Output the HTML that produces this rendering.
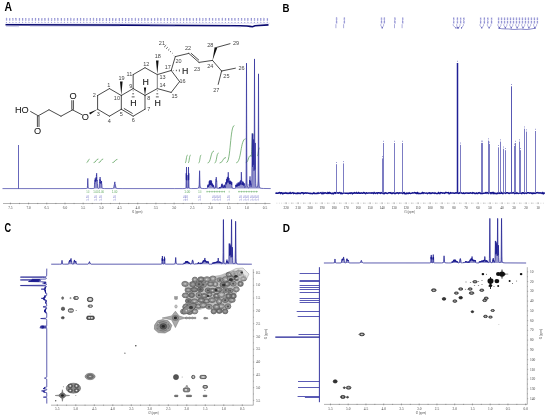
<!DOCTYPE html>
<html><head><meta charset="utf-8"><title>NMR figure</title>
<style>html,body{margin:0;padding:0;background:#fff;width:550px;height:419px;overflow:hidden}svg{display:block}</style>
</head><body>
<svg width="550" height="419" viewBox="0 0 550 419">
<rect width="550" height="419" fill="#fff"/>
<text transform="translate(4.5,10.6) scale(0.88,1)" font-size="11.9" font-weight="bold" fill="#000" font-family="Liberation Sans, Arial, sans-serif">A</text>
<text transform="translate(282.6,11.7) scale(0.84,1)" font-size="11.5" font-weight="bold" fill="#000" font-family="Liberation Sans, Arial, sans-serif">B</text>
<text transform="translate(4.5,231.8) scale(0.74,1)" font-size="12.4" font-weight="bold" fill="#000" font-family="Liberation Sans, Arial, sans-serif">C</text>
<text transform="translate(282.7,231.7) scale(0.85,1)" font-size="11.8" font-weight="bold" fill="#000" font-family="Liberation Sans, Arial, sans-serif">D</text>
<rect x="5.85" y="18.0" width="1.4" height="2.8" fill="#bcbce6"/>
<text transform="translate(6.8,21.2) rotate(-90)" font-size="2.1" textLength="3.3" lengthAdjust="spacingAndGlyphs" fill="#5454b4" font-family="Liberation Sans, Arial, sans-serif">7.30</text>
<rect x="5.9" y="22.0" width="1.1" height="0.7" fill="#8080cc"/>
<rect x="9.07" y="18.0" width="1.4" height="2.8" fill="#bcbce6"/>
<text transform="translate(10.02,21.2) rotate(-90)" font-size="2.1" textLength="3.3" lengthAdjust="spacingAndGlyphs" fill="#5454b4" font-family="Liberation Sans, Arial, sans-serif">7.21</text>
<rect x="9.12" y="22.0" width="1.1" height="0.7" fill="#8080cc"/>
<rect x="12.29" y="18.0" width="1.4" height="2.8" fill="#bcbce6"/>
<text transform="translate(13.24,21.2) rotate(-90)" font-size="2.1" textLength="3.3" lengthAdjust="spacingAndGlyphs" fill="#5454b4" font-family="Liberation Sans, Arial, sans-serif">7.13</text>
<rect x="12.34" y="22.0" width="1.1" height="0.7" fill="#8080cc"/>
<rect x="15.51" y="18.0" width="1.4" height="2.8" fill="#bcbce6"/>
<text transform="translate(16.46,21.2) rotate(-90)" font-size="2.1" textLength="3.3" lengthAdjust="spacingAndGlyphs" fill="#5454b4" font-family="Liberation Sans, Arial, sans-serif">7.04</text>
<rect x="15.56" y="22.0" width="1.1" height="0.7" fill="#8080cc"/>
<rect x="18.73" y="18.0" width="1.4" height="2.8" fill="#bcbce6"/>
<text transform="translate(19.68,21.2) rotate(-90)" font-size="2.1" textLength="3.3" lengthAdjust="spacingAndGlyphs" fill="#5454b4" font-family="Liberation Sans, Arial, sans-serif">6.96</text>
<rect x="18.78" y="22.0" width="1.1" height="0.7" fill="#8080cc"/>
<rect x="21.95" y="18.0" width="1.4" height="2.8" fill="#bcbce6"/>
<text transform="translate(22.9,21.2) rotate(-90)" font-size="2.1" textLength="3.3" lengthAdjust="spacingAndGlyphs" fill="#5454b4" font-family="Liberation Sans, Arial, sans-serif">6.88</text>
<rect x="22" y="22.0" width="1.1" height="0.7" fill="#8080cc"/>
<rect x="25.17" y="18.0" width="1.4" height="2.8" fill="#bcbce6"/>
<text transform="translate(26.12,21.2) rotate(-90)" font-size="2.1" textLength="3.3" lengthAdjust="spacingAndGlyphs" fill="#5454b4" font-family="Liberation Sans, Arial, sans-serif">6.79</text>
<rect x="25.22" y="22.0" width="1.1" height="0.7" fill="#8080cc"/>
<rect x="28.39" y="18.0" width="1.4" height="2.8" fill="#bcbce6"/>
<text transform="translate(29.34,21.2) rotate(-90)" font-size="2.1" textLength="3.3" lengthAdjust="spacingAndGlyphs" fill="#5454b4" font-family="Liberation Sans, Arial, sans-serif">6.71</text>
<rect x="28.44" y="22.0" width="1.1" height="0.7" fill="#8080cc"/>
<rect x="31.61" y="18.0" width="1.4" height="2.8" fill="#bcbce6"/>
<text transform="translate(32.56,21.2) rotate(-90)" font-size="2.1" textLength="3.3" lengthAdjust="spacingAndGlyphs" fill="#5454b4" font-family="Liberation Sans, Arial, sans-serif">6.62</text>
<rect x="31.66" y="22.0" width="1.1" height="0.7" fill="#8080cc"/>
<rect x="34.83" y="18.0" width="1.4" height="2.8" fill="#bcbce6"/>
<text transform="translate(35.78,21.2) rotate(-90)" font-size="2.1" textLength="3.3" lengthAdjust="spacingAndGlyphs" fill="#5454b4" font-family="Liberation Sans, Arial, sans-serif">6.54</text>
<rect x="34.88" y="22.0" width="1.1" height="0.7" fill="#8080cc"/>
<rect x="38.05" y="18.0" width="1.4" height="2.8" fill="#bcbce6"/>
<text transform="translate(39,21.2) rotate(-90)" font-size="2.1" textLength="3.3" lengthAdjust="spacingAndGlyphs" fill="#5454b4" font-family="Liberation Sans, Arial, sans-serif">6.45</text>
<rect x="38.1" y="22.0" width="1.1" height="0.7" fill="#8080cc"/>
<rect x="41.27" y="18.0" width="1.4" height="2.8" fill="#bcbce6"/>
<text transform="translate(42.22,21.2) rotate(-90)" font-size="2.1" textLength="3.3" lengthAdjust="spacingAndGlyphs" fill="#5454b4" font-family="Liberation Sans, Arial, sans-serif">6.37</text>
<rect x="41.32" y="22.0" width="1.1" height="0.7" fill="#8080cc"/>
<rect x="44.49" y="18.0" width="1.4" height="2.8" fill="#bcbce6"/>
<text transform="translate(45.44,21.2) rotate(-90)" font-size="2.1" textLength="3.3" lengthAdjust="spacingAndGlyphs" fill="#5454b4" font-family="Liberation Sans, Arial, sans-serif">6.28</text>
<rect x="44.54" y="22.0" width="1.1" height="0.7" fill="#8080cc"/>
<rect x="47.71" y="18.0" width="1.4" height="2.8" fill="#bcbce6"/>
<text transform="translate(48.66,21.2) rotate(-90)" font-size="2.1" textLength="3.3" lengthAdjust="spacingAndGlyphs" fill="#5454b4" font-family="Liberation Sans, Arial, sans-serif">6.20</text>
<rect x="47.76" y="22.0" width="1.1" height="0.7" fill="#8080cc"/>
<rect x="50.93" y="18.0" width="1.4" height="2.8" fill="#bcbce6"/>
<text transform="translate(51.88,21.2) rotate(-90)" font-size="2.1" textLength="3.3" lengthAdjust="spacingAndGlyphs" fill="#5454b4" font-family="Liberation Sans, Arial, sans-serif">6.11</text>
<rect x="50.98" y="22.0" width="1.1" height="0.7" fill="#8080cc"/>
<rect x="54.15" y="18.0" width="1.4" height="2.8" fill="#bcbce6"/>
<text transform="translate(55.1,21.2) rotate(-90)" font-size="2.1" textLength="3.3" lengthAdjust="spacingAndGlyphs" fill="#5454b4" font-family="Liberation Sans, Arial, sans-serif">6.02</text>
<rect x="54.2" y="22.0" width="1.1" height="0.7" fill="#8080cc"/>
<rect x="57.37" y="18.0" width="1.4" height="2.8" fill="#bcbce6"/>
<text transform="translate(58.32,21.2) rotate(-90)" font-size="2.1" textLength="3.3" lengthAdjust="spacingAndGlyphs" fill="#5454b4" font-family="Liberation Sans, Arial, sans-serif">5.94</text>
<rect x="57.42" y="22.0" width="1.1" height="0.7" fill="#8080cc"/>
<rect x="60.59" y="18.0" width="1.4" height="2.8" fill="#bcbce6"/>
<text transform="translate(61.54,21.2) rotate(-90)" font-size="2.1" textLength="3.3" lengthAdjust="spacingAndGlyphs" fill="#5454b4" font-family="Liberation Sans, Arial, sans-serif">5.85</text>
<rect x="60.64" y="22.0" width="1.1" height="0.7" fill="#8080cc"/>
<rect x="63.81" y="18.0" width="1.4" height="2.8" fill="#bcbce6"/>
<text transform="translate(64.76,21.2) rotate(-90)" font-size="2.1" textLength="3.3" lengthAdjust="spacingAndGlyphs" fill="#5454b4" font-family="Liberation Sans, Arial, sans-serif">5.77</text>
<rect x="63.86" y="22.0" width="1.1" height="0.7" fill="#8080cc"/>
<rect x="67.03" y="18.0" width="1.4" height="2.8" fill="#bcbce6"/>
<text transform="translate(67.98,21.2) rotate(-90)" font-size="2.1" textLength="3.3" lengthAdjust="spacingAndGlyphs" fill="#5454b4" font-family="Liberation Sans, Arial, sans-serif">5.68</text>
<rect x="67.08" y="22.0" width="1.1" height="0.7" fill="#8080cc"/>
<rect x="70.25" y="18.0" width="1.4" height="2.8" fill="#bcbce6"/>
<text transform="translate(71.2,21.2) rotate(-90)" font-size="2.1" textLength="3.3" lengthAdjust="spacingAndGlyphs" fill="#5454b4" font-family="Liberation Sans, Arial, sans-serif">5.60</text>
<rect x="70.3" y="22.0" width="1.1" height="0.7" fill="#8080cc"/>
<rect x="73.47" y="18.0" width="1.4" height="2.8" fill="#bcbce6"/>
<text transform="translate(74.42,21.2) rotate(-90)" font-size="2.1" textLength="3.3" lengthAdjust="spacingAndGlyphs" fill="#5454b4" font-family="Liberation Sans, Arial, sans-serif">5.51</text>
<rect x="73.52" y="22.0" width="1.1" height="0.7" fill="#8080cc"/>
<rect x="76.69" y="18.0" width="1.4" height="2.8" fill="#bcbce6"/>
<text transform="translate(77.64,21.2) rotate(-90)" font-size="2.1" textLength="3.3" lengthAdjust="spacingAndGlyphs" fill="#5454b4" font-family="Liberation Sans, Arial, sans-serif">5.43</text>
<rect x="76.74" y="22.0" width="1.1" height="0.7" fill="#8080cc"/>
<rect x="79.91" y="18.0" width="1.4" height="2.8" fill="#bcbce6"/>
<text transform="translate(80.86,21.2) rotate(-90)" font-size="2.1" textLength="3.3" lengthAdjust="spacingAndGlyphs" fill="#5454b4" font-family="Liberation Sans, Arial, sans-serif">5.34</text>
<rect x="79.96" y="22.0" width="1.1" height="0.7" fill="#8080cc"/>
<rect x="83.13" y="18.0" width="1.4" height="2.8" fill="#bcbce6"/>
<text transform="translate(84.08,21.2) rotate(-90)" font-size="2.1" textLength="3.3" lengthAdjust="spacingAndGlyphs" fill="#5454b4" font-family="Liberation Sans, Arial, sans-serif">5.26</text>
<rect x="83.18" y="22.0" width="1.1" height="0.7" fill="#8080cc"/>
<rect x="86.35" y="18.0" width="1.4" height="2.8" fill="#bcbce6"/>
<text transform="translate(87.3,21.2) rotate(-90)" font-size="2.1" textLength="3.3" lengthAdjust="spacingAndGlyphs" fill="#5454b4" font-family="Liberation Sans, Arial, sans-serif">5.17</text>
<rect x="86.4" y="22.0" width="1.1" height="0.7" fill="#8080cc"/>
<rect x="89.57" y="18.0" width="1.4" height="2.8" fill="#bcbce6"/>
<text transform="translate(90.52,21.2) rotate(-90)" font-size="2.1" textLength="3.3" lengthAdjust="spacingAndGlyphs" fill="#5454b4" font-family="Liberation Sans, Arial, sans-serif">5.09</text>
<rect x="89.62" y="22.0" width="1.1" height="0.7" fill="#8080cc"/>
<rect x="92.79" y="18.0" width="1.4" height="2.8" fill="#bcbce6"/>
<text transform="translate(93.74,21.2) rotate(-90)" font-size="2.1" textLength="3.3" lengthAdjust="spacingAndGlyphs" fill="#5454b4" font-family="Liberation Sans, Arial, sans-serif">5.00</text>
<rect x="92.84" y="22.0" width="1.1" height="0.7" fill="#8080cc"/>
<rect x="96.01" y="18.0" width="1.4" height="2.8" fill="#bcbce6"/>
<text transform="translate(96.96,21.2) rotate(-90)" font-size="2.1" textLength="3.3" lengthAdjust="spacingAndGlyphs" fill="#5454b4" font-family="Liberation Sans, Arial, sans-serif">4.92</text>
<rect x="96.06" y="22.0" width="1.1" height="0.7" fill="#8080cc"/>
<rect x="99.23" y="18.0" width="1.4" height="2.8" fill="#bcbce6"/>
<text transform="translate(100.18,21.2) rotate(-90)" font-size="2.1" textLength="3.3" lengthAdjust="spacingAndGlyphs" fill="#5454b4" font-family="Liberation Sans, Arial, sans-serif">4.83</text>
<rect x="99.28" y="22.0" width="1.1" height="0.7" fill="#8080cc"/>
<rect x="102.45" y="18.0" width="1.4" height="2.8" fill="#bcbce6"/>
<text transform="translate(103.4,21.2) rotate(-90)" font-size="2.1" textLength="3.3" lengthAdjust="spacingAndGlyphs" fill="#5454b4" font-family="Liberation Sans, Arial, sans-serif">4.75</text>
<rect x="102.5" y="22.0" width="1.1" height="0.7" fill="#8080cc"/>
<rect x="105.67" y="18.0" width="1.4" height="2.8" fill="#bcbce6"/>
<text transform="translate(106.62,21.2) rotate(-90)" font-size="2.1" textLength="3.3" lengthAdjust="spacingAndGlyphs" fill="#5454b4" font-family="Liberation Sans, Arial, sans-serif">4.66</text>
<rect x="105.72" y="22.0" width="1.1" height="0.7" fill="#8080cc"/>
<rect x="108.89" y="18.0" width="1.4" height="2.8" fill="#bcbce6"/>
<text transform="translate(109.84,21.2) rotate(-90)" font-size="2.1" textLength="3.3" lengthAdjust="spacingAndGlyphs" fill="#5454b4" font-family="Liberation Sans, Arial, sans-serif">4.58</text>
<rect x="108.94" y="22.0" width="1.1" height="0.7" fill="#8080cc"/>
<rect x="112.11" y="18.0" width="1.4" height="2.8" fill="#bcbce6"/>
<text transform="translate(113.06,21.2) rotate(-90)" font-size="2.1" textLength="3.3" lengthAdjust="spacingAndGlyphs" fill="#5454b4" font-family="Liberation Sans, Arial, sans-serif">4.49</text>
<rect x="112.16" y="22.0" width="1.1" height="0.7" fill="#8080cc"/>
<rect x="115.33" y="18.0" width="1.4" height="2.8" fill="#bcbce6"/>
<text transform="translate(116.28,21.2) rotate(-90)" font-size="2.1" textLength="3.3" lengthAdjust="spacingAndGlyphs" fill="#5454b4" font-family="Liberation Sans, Arial, sans-serif">4.41</text>
<rect x="115.38" y="22.0" width="1.1" height="0.7" fill="#8080cc"/>
<rect x="118.55" y="18.0" width="1.4" height="2.8" fill="#bcbce6"/>
<text transform="translate(119.5,21.2) rotate(-90)" font-size="2.1" textLength="3.3" lengthAdjust="spacingAndGlyphs" fill="#5454b4" font-family="Liberation Sans, Arial, sans-serif">4.32</text>
<rect x="118.6" y="22.0" width="1.1" height="0.7" fill="#8080cc"/>
<rect x="121.77" y="18.0" width="1.4" height="2.8" fill="#bcbce6"/>
<text transform="translate(122.72,21.2) rotate(-90)" font-size="2.1" textLength="3.3" lengthAdjust="spacingAndGlyphs" fill="#5454b4" font-family="Liberation Sans, Arial, sans-serif">4.24</text>
<rect x="121.82" y="22.0" width="1.1" height="0.7" fill="#8080cc"/>
<rect x="124.99" y="18.0" width="1.4" height="2.8" fill="#bcbce6"/>
<text transform="translate(125.94,21.2) rotate(-90)" font-size="2.1" textLength="3.3" lengthAdjust="spacingAndGlyphs" fill="#5454b4" font-family="Liberation Sans, Arial, sans-serif">4.15</text>
<rect x="125.04" y="22.0" width="1.1" height="0.7" fill="#8080cc"/>
<rect x="128.21" y="18.0" width="1.4" height="2.8" fill="#bcbce6"/>
<text transform="translate(129.16,21.2) rotate(-90)" font-size="2.1" textLength="3.3" lengthAdjust="spacingAndGlyphs" fill="#5454b4" font-family="Liberation Sans, Arial, sans-serif">4.07</text>
<rect x="128.26" y="22.0" width="1.1" height="0.7" fill="#8080cc"/>
<rect x="131.43" y="18.0" width="1.4" height="2.8" fill="#bcbce6"/>
<text transform="translate(132.38,21.2) rotate(-90)" font-size="2.1" textLength="3.3" lengthAdjust="spacingAndGlyphs" fill="#5454b4" font-family="Liberation Sans, Arial, sans-serif">3.98</text>
<rect x="131.48" y="22.0" width="1.1" height="0.7" fill="#8080cc"/>
<rect x="134.65" y="18.0" width="1.4" height="2.8" fill="#bcbce6"/>
<text transform="translate(135.6,21.2) rotate(-90)" font-size="2.1" textLength="3.3" lengthAdjust="spacingAndGlyphs" fill="#5454b4" font-family="Liberation Sans, Arial, sans-serif">3.90</text>
<rect x="134.7" y="22.0" width="1.1" height="0.7" fill="#8080cc"/>
<rect x="137.87" y="18.0" width="1.4" height="2.8" fill="#bcbce6"/>
<text transform="translate(138.82,21.2) rotate(-90)" font-size="2.1" textLength="3.3" lengthAdjust="spacingAndGlyphs" fill="#5454b4" font-family="Liberation Sans, Arial, sans-serif">3.81</text>
<rect x="137.92" y="22.0" width="1.1" height="0.7" fill="#8080cc"/>
<rect x="141.09" y="18.0" width="1.4" height="2.8" fill="#bcbce6"/>
<text transform="translate(142.04,21.2) rotate(-90)" font-size="2.1" textLength="3.3" lengthAdjust="spacingAndGlyphs" fill="#5454b4" font-family="Liberation Sans, Arial, sans-serif">3.73</text>
<rect x="141.14" y="22.0" width="1.1" height="0.7" fill="#8080cc"/>
<rect x="144.31" y="18.0" width="1.4" height="2.8" fill="#bcbce6"/>
<text transform="translate(145.26,21.2) rotate(-90)" font-size="2.1" textLength="3.3" lengthAdjust="spacingAndGlyphs" fill="#5454b4" font-family="Liberation Sans, Arial, sans-serif">3.64</text>
<rect x="144.36" y="22.0" width="1.1" height="0.7" fill="#8080cc"/>
<rect x="147.53" y="18.0" width="1.4" height="2.8" fill="#bcbce6"/>
<text transform="translate(148.48,21.2) rotate(-90)" font-size="2.1" textLength="3.3" lengthAdjust="spacingAndGlyphs" fill="#5454b4" font-family="Liberation Sans, Arial, sans-serif">3.56</text>
<rect x="147.58" y="22.0" width="1.1" height="0.7" fill="#8080cc"/>
<rect x="150.75" y="18.0" width="1.4" height="2.8" fill="#bcbce6"/>
<text transform="translate(151.7,21.2) rotate(-90)" font-size="2.1" textLength="3.3" lengthAdjust="spacingAndGlyphs" fill="#5454b4" font-family="Liberation Sans, Arial, sans-serif">3.47</text>
<rect x="150.8" y="22.0" width="1.1" height="0.7" fill="#8080cc"/>
<rect x="153.97" y="18.0" width="1.4" height="2.8" fill="#bcbce6"/>
<text transform="translate(154.92,21.2) rotate(-90)" font-size="2.1" textLength="3.3" lengthAdjust="spacingAndGlyphs" fill="#5454b4" font-family="Liberation Sans, Arial, sans-serif">3.39</text>
<rect x="154.02" y="22.0" width="1.1" height="0.7" fill="#8080cc"/>
<rect x="157.19" y="18.0" width="1.4" height="2.8" fill="#bcbce6"/>
<text transform="translate(158.14,21.2) rotate(-90)" font-size="2.1" textLength="3.3" lengthAdjust="spacingAndGlyphs" fill="#5454b4" font-family="Liberation Sans, Arial, sans-serif">3.30</text>
<rect x="157.24" y="22.0" width="1.1" height="0.7" fill="#8080cc"/>
<rect x="160.41" y="18.0" width="1.4" height="2.8" fill="#bcbce6"/>
<text transform="translate(161.36,21.2) rotate(-90)" font-size="2.1" textLength="3.3" lengthAdjust="spacingAndGlyphs" fill="#5454b4" font-family="Liberation Sans, Arial, sans-serif">3.22</text>
<rect x="160.46" y="22.0" width="1.1" height="0.7" fill="#8080cc"/>
<rect x="163.63" y="18.0" width="1.4" height="2.8" fill="#bcbce6"/>
<text transform="translate(164.58,21.2) rotate(-90)" font-size="2.1" textLength="3.3" lengthAdjust="spacingAndGlyphs" fill="#5454b4" font-family="Liberation Sans, Arial, sans-serif">3.13</text>
<rect x="163.68" y="22.0" width="1.1" height="0.7" fill="#8080cc"/>
<rect x="166.85" y="18.0" width="1.4" height="2.8" fill="#bcbce6"/>
<text transform="translate(167.8,21.2) rotate(-90)" font-size="2.1" textLength="3.3" lengthAdjust="spacingAndGlyphs" fill="#5454b4" font-family="Liberation Sans, Arial, sans-serif">3.05</text>
<rect x="166.9" y="22.0" width="1.1" height="0.7" fill="#8080cc"/>
<rect x="170.07" y="18.0" width="1.4" height="2.8" fill="#bcbce6"/>
<text transform="translate(171.02,21.2) rotate(-90)" font-size="2.1" textLength="3.3" lengthAdjust="spacingAndGlyphs" fill="#5454b4" font-family="Liberation Sans, Arial, sans-serif">2.96</text>
<rect x="170.12" y="22.0" width="1.1" height="0.7" fill="#8080cc"/>
<rect x="173.29" y="18.0" width="1.4" height="2.8" fill="#bcbce6"/>
<text transform="translate(174.24,21.2) rotate(-90)" font-size="2.1" textLength="3.3" lengthAdjust="spacingAndGlyphs" fill="#5454b4" font-family="Liberation Sans, Arial, sans-serif">2.88</text>
<rect x="173.34" y="22.0" width="1.1" height="0.7" fill="#8080cc"/>
<rect x="176.51" y="18.0" width="1.4" height="2.8" fill="#bcbce6"/>
<text transform="translate(177.46,21.2) rotate(-90)" font-size="2.1" textLength="3.3" lengthAdjust="spacingAndGlyphs" fill="#5454b4" font-family="Liberation Sans, Arial, sans-serif">2.79</text>
<rect x="176.56" y="22.0" width="1.1" height="0.7" fill="#8080cc"/>
<rect x="179.73" y="18.0" width="1.4" height="2.8" fill="#bcbce6"/>
<text transform="translate(180.68,21.2) rotate(-90)" font-size="2.1" textLength="3.3" lengthAdjust="spacingAndGlyphs" fill="#5454b4" font-family="Liberation Sans, Arial, sans-serif">2.71</text>
<rect x="179.78" y="22.0" width="1.1" height="0.7" fill="#8080cc"/>
<rect x="182.95" y="18.0" width="1.4" height="2.8" fill="#bcbce6"/>
<text transform="translate(183.9,21.2) rotate(-90)" font-size="2.1" textLength="3.3" lengthAdjust="spacingAndGlyphs" fill="#5454b4" font-family="Liberation Sans, Arial, sans-serif">2.62</text>
<rect x="183" y="22.0" width="1.1" height="0.7" fill="#8080cc"/>
<rect x="186.17" y="18.0" width="1.4" height="2.8" fill="#bcbce6"/>
<text transform="translate(187.12,21.2) rotate(-90)" font-size="2.1" textLength="3.3" lengthAdjust="spacingAndGlyphs" fill="#5454b4" font-family="Liberation Sans, Arial, sans-serif">2.54</text>
<rect x="186.22" y="22.0" width="1.1" height="0.7" fill="#8080cc"/>
<rect x="189.39" y="18.0" width="1.4" height="2.8" fill="#bcbce6"/>
<text transform="translate(190.34,21.2) rotate(-90)" font-size="2.1" textLength="3.3" lengthAdjust="spacingAndGlyphs" fill="#5454b4" font-family="Liberation Sans, Arial, sans-serif">2.45</text>
<rect x="189.44" y="22.0" width="1.1" height="0.7" fill="#8080cc"/>
<rect x="192.61" y="18.0" width="1.4" height="2.8" fill="#bcbce6"/>
<text transform="translate(193.56,21.2) rotate(-90)" font-size="2.1" textLength="3.3" lengthAdjust="spacingAndGlyphs" fill="#5454b4" font-family="Liberation Sans, Arial, sans-serif">2.37</text>
<rect x="192.66" y="22.0" width="1.1" height="0.7" fill="#8080cc"/>
<rect x="195.83" y="18.0" width="1.4" height="2.8" fill="#bcbce6"/>
<text transform="translate(196.78,21.2) rotate(-90)" font-size="2.1" textLength="3.3" lengthAdjust="spacingAndGlyphs" fill="#5454b4" font-family="Liberation Sans, Arial, sans-serif">2.28</text>
<rect x="195.88" y="22.0" width="1.1" height="0.7" fill="#8080cc"/>
<rect x="199.05" y="18.0" width="1.4" height="2.8" fill="#bcbce6"/>
<text transform="translate(200,21.2) rotate(-90)" font-size="2.1" textLength="3.3" lengthAdjust="spacingAndGlyphs" fill="#5454b4" font-family="Liberation Sans, Arial, sans-serif">2.20</text>
<rect x="199.1" y="22.0" width="1.1" height="0.7" fill="#8080cc"/>
<rect x="202.27" y="18.0" width="1.4" height="2.8" fill="#bcbce6"/>
<text transform="translate(203.22,21.2) rotate(-90)" font-size="2.1" textLength="3.3" lengthAdjust="spacingAndGlyphs" fill="#5454b4" font-family="Liberation Sans, Arial, sans-serif">2.11</text>
<rect x="202.32" y="22.0" width="1.1" height="0.7" fill="#8080cc"/>
<rect x="205.49" y="18.0" width="1.4" height="2.8" fill="#bcbce6"/>
<text transform="translate(206.44,21.2) rotate(-90)" font-size="2.1" textLength="3.3" lengthAdjust="spacingAndGlyphs" fill="#5454b4" font-family="Liberation Sans, Arial, sans-serif">2.03</text>
<rect x="205.54" y="22.0" width="1.1" height="0.7" fill="#8080cc"/>
<rect x="208.71" y="18.0" width="1.4" height="2.8" fill="#bcbce6"/>
<text transform="translate(209.66,21.2) rotate(-90)" font-size="2.1" textLength="3.3" lengthAdjust="spacingAndGlyphs" fill="#5454b4" font-family="Liberation Sans, Arial, sans-serif">1.94</text>
<rect x="208.76" y="22.0" width="1.1" height="0.7" fill="#8080cc"/>
<rect x="211.93" y="18.0" width="1.4" height="2.8" fill="#bcbce6"/>
<text transform="translate(212.88,21.2) rotate(-90)" font-size="2.1" textLength="3.3" lengthAdjust="spacingAndGlyphs" fill="#5454b4" font-family="Liberation Sans, Arial, sans-serif">1.86</text>
<rect x="211.98" y="22.0" width="1.1" height="0.7" fill="#8080cc"/>
<rect x="215.15" y="18.0" width="1.4" height="2.8" fill="#bcbce6"/>
<text transform="translate(216.1,21.2) rotate(-90)" font-size="2.1" textLength="3.3" lengthAdjust="spacingAndGlyphs" fill="#5454b4" font-family="Liberation Sans, Arial, sans-serif">1.77</text>
<rect x="215.2" y="22.0" width="1.1" height="0.7" fill="#8080cc"/>
<rect x="218.37" y="18.0" width="1.4" height="2.8" fill="#bcbce6"/>
<text transform="translate(219.32,21.2) rotate(-90)" font-size="2.1" textLength="3.3" lengthAdjust="spacingAndGlyphs" fill="#5454b4" font-family="Liberation Sans, Arial, sans-serif">1.69</text>
<rect x="218.42" y="22.0" width="1.1" height="0.7" fill="#8080cc"/>
<rect x="221.59" y="18.0" width="1.4" height="2.8" fill="#bcbce6"/>
<text transform="translate(222.54,21.2) rotate(-90)" font-size="2.1" textLength="3.3" lengthAdjust="spacingAndGlyphs" fill="#5454b4" font-family="Liberation Sans, Arial, sans-serif">1.60</text>
<rect x="221.64" y="22.0" width="1.1" height="0.7" fill="#8080cc"/>
<rect x="224.81" y="18.0" width="1.4" height="2.8" fill="#bcbce6"/>
<text transform="translate(225.76,21.2) rotate(-90)" font-size="2.1" textLength="3.3" lengthAdjust="spacingAndGlyphs" fill="#5454b4" font-family="Liberation Sans, Arial, sans-serif">1.52</text>
<rect x="224.86" y="22.0" width="1.1" height="0.7" fill="#8080cc"/>
<rect x="228.03" y="18.0" width="1.4" height="2.8" fill="#bcbce6"/>
<text transform="translate(228.98,21.2) rotate(-90)" font-size="2.1" textLength="3.3" lengthAdjust="spacingAndGlyphs" fill="#5454b4" font-family="Liberation Sans, Arial, sans-serif">1.43</text>
<rect x="228.08" y="22.0" width="1.1" height="0.7" fill="#8080cc"/>
<rect x="231.25" y="18.0" width="1.4" height="2.8" fill="#bcbce6"/>
<text transform="translate(232.2,21.2) rotate(-90)" font-size="2.1" textLength="3.3" lengthAdjust="spacingAndGlyphs" fill="#5454b4" font-family="Liberation Sans, Arial, sans-serif">1.35</text>
<rect x="231.3" y="22.0" width="1.1" height="0.7" fill="#8080cc"/>
<rect x="234.47" y="18.0" width="1.4" height="2.8" fill="#bcbce6"/>
<text transform="translate(235.42,21.2) rotate(-90)" font-size="2.1" textLength="3.3" lengthAdjust="spacingAndGlyphs" fill="#5454b4" font-family="Liberation Sans, Arial, sans-serif">1.26</text>
<rect x="234.52" y="22.0" width="1.1" height="0.7" fill="#8080cc"/>
<rect x="237.69" y="18.0" width="1.4" height="2.8" fill="#bcbce6"/>
<text transform="translate(238.64,21.2) rotate(-90)" font-size="2.1" textLength="3.3" lengthAdjust="spacingAndGlyphs" fill="#5454b4" font-family="Liberation Sans, Arial, sans-serif">1.18</text>
<rect x="237.74" y="22.0" width="1.1" height="0.7" fill="#8080cc"/>
<rect x="240.91" y="18.0" width="1.4" height="2.8" fill="#bcbce6"/>
<text transform="translate(241.86,21.2) rotate(-90)" font-size="2.1" textLength="3.3" lengthAdjust="spacingAndGlyphs" fill="#5454b4" font-family="Liberation Sans, Arial, sans-serif">1.09</text>
<rect x="240.96" y="22.0" width="1.1" height="0.7" fill="#8080cc"/>
<rect x="244.13" y="18.0" width="1.4" height="2.8" fill="#bcbce6"/>
<text transform="translate(245.08,21.2) rotate(-90)" font-size="2.1" textLength="3.3" lengthAdjust="spacingAndGlyphs" fill="#5454b4" font-family="Liberation Sans, Arial, sans-serif">1.01</text>
<rect x="244.18" y="22.0" width="1.1" height="0.7" fill="#8080cc"/>
<rect x="247.35" y="18.0" width="1.4" height="2.8" fill="#bcbce6"/>
<text transform="translate(248.3,21.2) rotate(-90)" font-size="2.1" textLength="3.3" lengthAdjust="spacingAndGlyphs" fill="#5454b4" font-family="Liberation Sans, Arial, sans-serif">0.92</text>
<rect x="247.4" y="22.0" width="1.1" height="0.7" fill="#8080cc"/>
<rect x="250.57" y="18.0" width="1.4" height="2.8" fill="#bcbce6"/>
<text transform="translate(251.52,21.2) rotate(-90)" font-size="2.1" textLength="3.3" lengthAdjust="spacingAndGlyphs" fill="#5454b4" font-family="Liberation Sans, Arial, sans-serif">0.84</text>
<rect x="250.62" y="22.0" width="1.1" height="0.7" fill="#8080cc"/>
<rect x="253.79" y="18.0" width="1.4" height="2.8" fill="#bcbce6"/>
<text transform="translate(254.74,21.2) rotate(-90)" font-size="2.1" textLength="3.3" lengthAdjust="spacingAndGlyphs" fill="#5454b4" font-family="Liberation Sans, Arial, sans-serif">0.75</text>
<rect x="253.84" y="22.0" width="1.1" height="0.7" fill="#8080cc"/>
<rect x="257.01" y="18.0" width="1.4" height="2.8" fill="#bcbce6"/>
<text transform="translate(257.96,21.2) rotate(-90)" font-size="2.1" textLength="3.3" lengthAdjust="spacingAndGlyphs" fill="#5454b4" font-family="Liberation Sans, Arial, sans-serif">0.67</text>
<rect x="257.06" y="22.0" width="1.1" height="0.7" fill="#8080cc"/>
<rect x="260.23" y="18.0" width="1.4" height="2.8" fill="#bcbce6"/>
<text transform="translate(261.18,21.2) rotate(-90)" font-size="2.1" textLength="3.3" lengthAdjust="spacingAndGlyphs" fill="#5454b4" font-family="Liberation Sans, Arial, sans-serif">0.58</text>
<rect x="260.28" y="22.0" width="1.1" height="0.7" fill="#8080cc"/>
<rect x="263.45" y="18.0" width="1.4" height="2.8" fill="#bcbce6"/>
<text transform="translate(264.4,21.2) rotate(-90)" font-size="2.1" textLength="3.3" lengthAdjust="spacingAndGlyphs" fill="#5454b4" font-family="Liberation Sans, Arial, sans-serif">0.50</text>
<rect x="263.5" y="22.0" width="1.1" height="0.7" fill="#8080cc"/>
<rect x="266.67" y="18.0" width="1.4" height="2.8" fill="#bcbce6"/>
<text transform="translate(267.62,21.2) rotate(-90)" font-size="2.1" textLength="3.3" lengthAdjust="spacingAndGlyphs" fill="#5454b4" font-family="Liberation Sans, Arial, sans-serif">0.41</text>
<rect x="266.72" y="22.0" width="1.1" height="0.7" fill="#8080cc"/>
<line x1="5.5" y1="23.4" x2="270" y2="23.4" stroke="#c4c4e8" stroke-width="0.4"/>
<path d="M5.5,24.8 L120,25.1 L240,25.7 L247,26.0 L250,26.4 L252.5,26.8 L255,25.8 L268.5,24.9" stroke="#0a0a70" stroke-width="1.6" fill="none"/>
<path d="M6,26.3 L19,26.7 M30,26.1 L120,26.1 M150,26.2 L175,26.2 M230,26.3 L241,26.9" stroke="#a0a0d8" stroke-width="0.5" fill="none"/>
<line x1="109.45" y1="88.6" x2="97.6" y2="95.5" stroke="#2a2a2a" stroke-width="0.85" stroke-linecap="round"/>
<line x1="97.6" y1="95.5" x2="97.6" y2="109.2" stroke="#2a2a2a" stroke-width="0.85" stroke-linecap="round"/>
<line x1="97.6" y1="109.2" x2="109.45" y2="116.2" stroke="#2a2a2a" stroke-width="0.85" stroke-linecap="round"/>
<line x1="109.45" y1="116.2" x2="121.3" y2="109.2" stroke="#2a2a2a" stroke-width="0.85" stroke-linecap="round"/>
<line x1="121.3" y1="109.2" x2="121.3" y2="95.5" stroke="#2a2a2a" stroke-width="0.85" stroke-linecap="round"/>
<line x1="121.3" y1="95.5" x2="109.45" y2="88.6" stroke="#2a2a2a" stroke-width="0.85" stroke-linecap="round"/>
<line x1="121.3" y1="109.2" x2="133.15" y2="116.2" stroke="#2a2a2a" stroke-width="0.85" stroke-linecap="round"/>
<line x1="133.15" y1="116.2" x2="145" y2="109.2" stroke="#2a2a2a" stroke-width="0.85" stroke-linecap="round"/>
<line x1="145" y1="109.2" x2="145" y2="95.4" stroke="#2a2a2a" stroke-width="0.85" stroke-linecap="round"/>
<line x1="145" y1="95.4" x2="133.15" y2="88.6" stroke="#2a2a2a" stroke-width="0.85" stroke-linecap="round"/>
<line x1="133.15" y1="88.6" x2="121.3" y2="95.5" stroke="#2a2a2a" stroke-width="0.85" stroke-linecap="round"/>
<line x1="133.15" y1="88.6" x2="133.15" y2="74.6" stroke="#2a2a2a" stroke-width="0.85" stroke-linecap="round"/>
<line x1="133.15" y1="74.6" x2="145" y2="67.7" stroke="#2a2a2a" stroke-width="0.85" stroke-linecap="round"/>
<line x1="145" y1="67.7" x2="157.3" y2="74.6" stroke="#2a2a2a" stroke-width="0.85" stroke-linecap="round"/>
<line x1="157.3" y1="88.6" x2="145" y2="95.4" stroke="#2a2a2a" stroke-width="0.85" stroke-linecap="round"/>
<line x1="157.3" y1="74.6" x2="171.2" y2="70.5" stroke="#2a2a2a" stroke-width="0.85" stroke-linecap="round"/>
<line x1="171.2" y1="70.5" x2="179.6" y2="81.6" stroke="#2a2a2a" stroke-width="0.85" stroke-linecap="round"/>
<line x1="179.6" y1="81.6" x2="171.2" y2="92.4" stroke="#2a2a2a" stroke-width="0.85" stroke-linecap="round"/>
<line x1="171.2" y1="92.4" x2="157.3" y2="88.6" stroke="#2a2a2a" stroke-width="0.85" stroke-linecap="round"/>
<line x1="171.2" y1="70.5" x2="175.3" y2="56.6" stroke="#2a2a2a" stroke-width="0.85" stroke-linecap="round"/>
<line x1="175.3" y1="56.6" x2="188.8" y2="53.4" stroke="#2a2a2a" stroke-width="0.85" stroke-linecap="round"/>
<line x1="188.8" y1="53.4" x2="199" y2="62.4" stroke="#2a2a2a" stroke-width="0.85" stroke-linecap="round"/>
<line x1="199" y1="62.4" x2="212.5" y2="60.4" stroke="#2a2a2a" stroke-width="0.85" stroke-linecap="round"/>
<line x1="212.5" y1="60.4" x2="221.6" y2="71" stroke="#2a2a2a" stroke-width="0.85" stroke-linecap="round"/>
<line x1="221.6" y1="71" x2="235.4" y2="68.2" stroke="#2a2a2a" stroke-width="0.85" stroke-linecap="round"/>
<line x1="221.6" y1="71" x2="218.2" y2="84.4" stroke="#2a2a2a" stroke-width="0.85" stroke-linecap="round"/>
<line x1="215.9" y1="47.6" x2="230" y2="43.7" stroke="#2a2a2a" stroke-width="0.85" stroke-linecap="round"/>
<line x1="72.6" y1="109.9" x2="61" y2="116.2" stroke="#2a2a2a" stroke-width="0.85" stroke-linecap="round"/>
<line x1="61" y1="116.2" x2="49" y2="109.8" stroke="#2a2a2a" stroke-width="0.85" stroke-linecap="round"/>
<line x1="49" y1="109.8" x2="38.2" y2="115.8" stroke="#2a2a2a" stroke-width="0.85" stroke-linecap="round"/>
<line x1="123.87" y1="108.39" x2="132.62" y2="113.56" stroke="#2a2a2a" stroke-width="0.85"/>
<line x1="157.3" y1="74.6" x2="157.3" y2="88.6" stroke="#808080" stroke-width="1.0"/>
<line x1="190.91" y1="53.13" x2="199.01" y2="60.27" stroke="#2a2a2a" stroke-width="0.85"/>
<polygon points="121.3,95.5 122.6,81.6 120,81.6" fill="#111"/>
<polygon points="157.3,74.6 158.6,60.6 156,60.6" fill="#111"/>
<polygon points="212.5,60.4 217.16,47.93 214.64,47.27" fill="#111"/>
<polygon points="145,95.4 146.15,87.6 143.85,87.6" fill="#111"/>
<polygon points="97.6,109.2 89.12,112.72 90.08,114.48" fill="#111"/>
<line x1="173.93" y1="55.44" x2="174.18" y2="55.19" stroke="#222" stroke-width="0.7"/>
<line x1="171.96" y1="53.78" x2="172.57" y2="53.19" stroke="#222" stroke-width="0.7"/>
<line x1="170" y1="52.12" x2="170.97" y2="51.18" stroke="#222" stroke-width="0.7"/>
<line x1="168.04" y1="50.46" x2="169.36" y2="49.17" stroke="#222" stroke-width="0.7"/>
<line x1="166.08" y1="48.8" x2="167.76" y2="47.16" stroke="#222" stroke-width="0.7"/>
<line x1="164.11" y1="47.14" x2="166.16" y2="45.16" stroke="#222" stroke-width="0.7"/>
<line x1="133.52" y1="90.75" x2="132.78" y2="90.75" stroke="#222" stroke-width="0.75"/>
<line x1="134.06" y1="93.81" x2="132.24" y2="93.81" stroke="#222" stroke-width="0.75"/>
<line x1="134.59" y1="96.88" x2="131.71" y2="96.88" stroke="#222" stroke-width="0.75"/>
<line x1="157.67" y1="90.75" x2="156.93" y2="90.75" stroke="#222" stroke-width="0.75"/>
<line x1="158.21" y1="93.81" x2="156.39" y2="93.81" stroke="#222" stroke-width="0.75"/>
<line x1="158.74" y1="96.88" x2="155.86" y2="96.88" stroke="#222" stroke-width="0.75"/>
<line x1="173.32" y1="70.22" x2="173.32" y2="70.78" stroke="#222" stroke-width="0.75"/>
<line x1="176.36" y1="69.82" x2="176.36" y2="71.18" stroke="#222" stroke-width="0.75"/>
<line x1="179.39" y1="69.42" x2="179.39" y2="71.58" stroke="#222" stroke-width="0.75"/>
<line x1="72.6" y1="109.9" x2="82.3" y2="114.9" stroke="#2a2a2a" stroke-width="0.85" stroke-linecap="round"/>
<line x1="71.8" y1="100.6" x2="71.8" y2="109.4" stroke="#2a2a2a" stroke-width="0.85" stroke-linecap="round"/>
<line x1="73.4" y1="100.6" x2="73.4" y2="109.4" stroke="#2a2a2a" stroke-width="0.85" stroke-linecap="round"/>
<line x1="37.4" y1="116.4" x2="37.4" y2="126.6" stroke="#2a2a2a" stroke-width="0.85" stroke-linecap="round"/>
<line x1="39" y1="116.4" x2="39" y2="126.6" stroke="#2a2a2a" stroke-width="0.85" stroke-linecap="round"/>
<line x1="38.2" y1="115.8" x2="30.6" y2="111.5" stroke="#2a2a2a" stroke-width="0.85" stroke-linecap="round"/>
<text x="85.4" y="120.1" font-size="9.2" text-anchor="middle" stroke="#1a1a1a" stroke-width="0.08" font-family="Liberation Sans, Arial, sans-serif" fill="#1a1a1a">O</text>
<text x="73.2" y="98.8" font-size="9.2" text-anchor="middle" stroke="#1a1a1a" stroke-width="0.08" font-family="Liberation Sans, Arial, sans-serif" fill="#1a1a1a">O</text>
<text x="37.5" y="134.4" font-size="9.2" text-anchor="middle" stroke="#1a1a1a" stroke-width="0.08" font-family="Liberation Sans, Arial, sans-serif" fill="#1a1a1a">O</text>
<text x="21.8" y="112.9" font-size="9.2" text-anchor="middle" stroke="#1a1a1a" stroke-width="0.08" font-family="Liberation Sans, Arial, sans-serif" fill="#1a1a1a">HO</text>
<text x="145.6" y="84.9" font-size="8.8" text-anchor="middle" stroke="#1a1a1a" stroke-width="0.12" font-family="Liberation Sans, Arial, sans-serif" fill="#1a1a1a">H</text>
<text x="133.4" y="106.1" font-size="8.8" text-anchor="middle" stroke="#1a1a1a" stroke-width="0.12" font-family="Liberation Sans, Arial, sans-serif" fill="#1a1a1a">H</text>
<text x="157.8" y="106.1" font-size="8.8" text-anchor="middle" stroke="#1a1a1a" stroke-width="0.12" font-family="Liberation Sans, Arial, sans-serif" fill="#1a1a1a">H</text>
<text x="185.2" y="74.1" font-size="8.8" text-anchor="middle" stroke="#1a1a1a" stroke-width="0.12" font-family="Liberation Sans, Arial, sans-serif" fill="#1a1a1a">H</text>
<text x="108.9" y="87.45" font-size="5.5" text-anchor="middle" fill="#444" font-family="Liberation Sans, Arial, sans-serif">1</text>
<text x="94.4" y="96.65" font-size="5.5" text-anchor="middle" fill="#444" font-family="Liberation Sans, Arial, sans-serif">2</text>
<text x="98.2" y="116.15" font-size="5.5" text-anchor="middle" fill="#444" font-family="Liberation Sans, Arial, sans-serif">3</text>
<text x="109.4" y="122.55" font-size="5.5" text-anchor="middle" fill="#444" font-family="Liberation Sans, Arial, sans-serif">4</text>
<text x="121.2" y="116.15" font-size="5.5" text-anchor="middle" fill="#444" font-family="Liberation Sans, Arial, sans-serif">5</text>
<text x="133.4" y="121.95" font-size="5.5" text-anchor="middle" fill="#444" font-family="Liberation Sans, Arial, sans-serif">6</text>
<text x="148.9" y="111.35" font-size="5.5" text-anchor="middle" fill="#444" font-family="Liberation Sans, Arial, sans-serif">7</text>
<text x="148.9" y="99.85" font-size="5.5" text-anchor="middle" fill="#444" font-family="Liberation Sans, Arial, sans-serif">8</text>
<text x="130.7" y="88.15" font-size="5.5" text-anchor="middle" fill="#444" font-family="Liberation Sans, Arial, sans-serif">9</text>
<text x="116.9" y="99.85" font-size="5.5" text-anchor="middle" fill="#444" font-family="Liberation Sans, Arial, sans-serif">10</text>
<text x="129.4" y="75.75" font-size="5.5" text-anchor="middle" fill="#444" font-family="Liberation Sans, Arial, sans-serif">11</text>
<text x="146.2" y="66.35" font-size="5.5" text-anchor="middle" fill="#444" font-family="Liberation Sans, Arial, sans-serif">12</text>
<text x="162.5" y="79.15" font-size="5.5" text-anchor="middle" fill="#444" font-family="Liberation Sans, Arial, sans-serif">13</text>
<text x="162.5" y="87.15" font-size="5.5" text-anchor="middle" fill="#444" font-family="Liberation Sans, Arial, sans-serif">14</text>
<text x="174.5" y="97.95" font-size="5.5" text-anchor="middle" fill="#444" font-family="Liberation Sans, Arial, sans-serif">15</text>
<text x="182.6" y="83.25" font-size="5.5" text-anchor="middle" fill="#444" font-family="Liberation Sans, Arial, sans-serif">16</text>
<text x="167.7" y="68.65" font-size="5.5" text-anchor="middle" fill="#444" font-family="Liberation Sans, Arial, sans-serif">17</text>
<text x="157.8" y="58.35" font-size="5.5" text-anchor="middle" fill="#444" font-family="Liberation Sans, Arial, sans-serif">18</text>
<text x="121.6" y="79.85" font-size="5.5" text-anchor="middle" fill="#444" font-family="Liberation Sans, Arial, sans-serif">19</text>
<text x="178.6" y="63.25" font-size="5.5" text-anchor="middle" fill="#444" font-family="Liberation Sans, Arial, sans-serif">20</text>
<text x="161.9" y="45.15" font-size="5.5" text-anchor="middle" fill="#444" font-family="Liberation Sans, Arial, sans-serif">21</text>
<text x="188" y="50.05" font-size="5.5" text-anchor="middle" fill="#444" font-family="Liberation Sans, Arial, sans-serif">22</text>
<text x="197.1" y="70.75" font-size="5.5" text-anchor="middle" fill="#444" font-family="Liberation Sans, Arial, sans-serif">23</text>
<text x="210.2" y="68.25" font-size="5.5" text-anchor="middle" fill="#444" font-family="Liberation Sans, Arial, sans-serif">24</text>
<text x="226.4" y="77.75" font-size="5.5" text-anchor="middle" fill="#444" font-family="Liberation Sans, Arial, sans-serif">25</text>
<text x="241.5" y="70.15" font-size="5.5" text-anchor="middle" fill="#444" font-family="Liberation Sans, Arial, sans-serif">26</text>
<text x="216.3" y="91.55" font-size="5.5" text-anchor="middle" fill="#444" font-family="Liberation Sans, Arial, sans-serif">27</text>
<text x="210.2" y="47.25" font-size="5.5" text-anchor="middle" fill="#444" font-family="Liberation Sans, Arial, sans-serif">28</text>
<text x="236" y="45.35" font-size="5.5" text-anchor="middle" fill="#444" font-family="Liberation Sans, Arial, sans-serif">29</text>
<path d="M86.6,162.6 C88.25,162.6 87.95,159.2 89.6,159.2" stroke="#4f9a4f" stroke-width="0.7" fill="none"/>
<path d="M93.6,162.6 C96.24,162.6 95.76,159 98.4,159" stroke="#4f9a4f" stroke-width="0.7" fill="none"/>
<path d="M98.6,162.6 C101.13,162.6 100.67,159 103.2,159" stroke="#4f9a4f" stroke-width="0.7" fill="none"/>
<path d="M112.4,162.6 C115.15,162.6 114.65,159.4 117.4,159.4" stroke="#4f9a4f" stroke-width="0.7" fill="none"/>
<path d="M185,163 C186.43,163 186.17,155 187.6,155" stroke="#4f9a4f" stroke-width="0.7" fill="none"/>
<path d="M188,163 C189.43,163 189.17,155 190.6,155" stroke="#4f9a4f" stroke-width="0.7" fill="none"/>
<path d="M198.6,163 C200.03,163 199.77,155 201.2,155" stroke="#4f9a4f" stroke-width="0.7" fill="none"/>
<path d="M207.6,163 C211.12,163 210.48,151 214,151" stroke="#4f9a4f" stroke-width="0.7" fill="none"/>
<path d="M214.6,163 C216.8,163 216.4,153 218.6,153" stroke="#4f9a4f" stroke-width="0.7" fill="none"/>
<path d="M219.6,163 C223.12,163 222.48,157.5 226,157.5" stroke="#4f9a4f" stroke-width="0.7" fill="none"/>
<path d="M226.4,162.5 C230.8,162.5 230,125.5 234.4,125.5" stroke="#4f9a4f" stroke-width="0.7" fill="none"/>
<path d="M236.2,162.8 C241.37,162.8 240.43,138.8 245.6,138.8" stroke="#4f9a4f" stroke-width="0.7" fill="none"/>
<path d="M245.8,162.5 C248.55,162.5 248.05,155.5 250.8,155.5" stroke="#4f9a4f" stroke-width="0.7" fill="none"/>
<path d="M250.8,157 C252.12,157 251.88,133 253.2,133" stroke="#4f9a4f" stroke-width="0.7" fill="none"/>
<path d="M257.2,156 C258.46,156 258.24,148 259.5,148" stroke="#4f9a4f" stroke-width="0.7" fill="none"/>
<polyline points="2.5,188.6 80.06,188.59 86.38,188.51 86.82,188.42 87.1,188.26 87.26,187.97 87.34,187.6 87.5,185.48 87.74,178.88 87.82,178.36 88.14,186.25 88.26,187.59 88.42,188.16 88.78,188.41 89.54,188.53 92.02,188.55 93.58,188.46 94.14,188.25 94.26,188.07 94.34,187.72 94.58,182.97 94.62,182.74 94.74,183.31 94.9,180.3 95.02,181.58 95.06,181.38 95.18,178.34 95.38,181.4 95.5,179.89 95.66,181.55 95.82,178.92 95.94,180.62 96.1,177.18 96.26,179.34 96.38,175.68 96.42,175.18 96.5,175.69 96.54,175.35 96.66,173.16 96.78,176.21 96.9,176.54 97.06,181.13 97.18,180.19 97.22,180.41 97.34,183.53 97.38,184.08 97.42,184.2 97.46,184.12 97.5,184.18 97.7,187.34 97.86,188.1 98.26,188.33 98.66,188.33 98.98,188.22 99.14,188.03 99.22,187.72 99.5,181.7 99.62,182.54 99.66,182.29 99.82,179.24 99.94,180.72 100.1,177.03 100.26,181.12 100.38,180.16 100.42,180.32 100.58,183.14 100.7,182.27 100.86,183.63 101.02,181.96 101.14,183.26 101.3,180.94 101.42,181.64 101.54,181.08 101.7,184.24 101.74,184.55 101.82,184.36 101.86,184.46 102.1,187.89 102.26,188.29 102.82,188.49 104.7,188.57 110.18,188.58 112.5,188.56 113.26,188.46 113.42,188.25 113.7,187.36 113.94,186.36 114.1,185.15 114.22,185.24 114.34,184.49 114.46,184.34 114.58,183.03 114.62,182.87 114.7,183.06 114.86,181.85 114.98,183.44 115.1,183.74 115.22,184.69 115.26,184.76 115.34,184.61 115.5,185.6 115.58,185.63 115.62,185.78 115.78,186.97 115.98,187.51 116.1,187.56 116.34,188.38 116.46,188.48 116.78,188.53 122.1,188.59 174.7,188.59 182.82,188.58 184.98,188.5 185.46,188.39 185.74,188.17 185.9,187.77 185.98,187 186.18,173.26 186.34,179.79 186.5,167.03 186.66,180.32 186.82,175.15 187.02,187.1 187.14,187.9 187.38,188.18 187.62,188.18 187.82,187.98 187.98,187.1 188.18,175.15 188.34,180.32 188.5,167.03 188.66,179.79 188.82,173.26 189.02,187 189.18,188.02 189.34,188.26 189.58,188.4 190.26,188.52 191.66,188.56 196.98,188.47 197.54,188.4 197.94,188.25 198.22,188.03 198.5,187.64 198.98,186.32 199.18,184.59 199.58,170.69 199.66,171.48 199.94,182.89 200.1,185.56 200.26,186.49 200.58,187.4 200.94,187.98 201.42,188.32 202.3,188.48 204.3,188.54 206.5,188.51 207.22,188.37 207.38,187.95 207.58,185.64 207.74,186.79 207.78,186.96 207.82,186.85 207.98,184.6 208.22,186.86 208.38,185.36 208.54,186.61 208.58,186.81 208.62,186.71 208.78,184.52 208.98,186.02 209.18,181.39 209.42,184.91 209.58,180.71 209.78,184.71 210.02,180.31 210.18,184.77 210.22,184.9 210.26,184.38 210.42,181.42 210.58,184.89 210.82,180.23 210.98,184.61 211.22,180.56 211.38,184.84 211.62,181.34 211.82,185.71 212.02,183.53 212.22,186.12 212.42,183.61 212.62,186.44 212.78,184.59 213.02,186.72 213.22,184.92 213.38,186.9 213.42,186.97 213.46,186.76 213.62,185.55 213.86,188.08 214.02,188.32 214.46,188.33 214.74,187.73 214.94,187.91 215.18,186.72 215.3,187.18 215.34,187.23 215.38,187.1 215.78,179.61 215.82,179.36 215.98,179.78 216.06,179.7 216.26,177.13 216.54,181.44 216.7,180.69 216.74,180.91 217.06,187.28 217.1,187.49 217.26,187.64 217.5,188.25 217.74,188.38 218.22,188.43 218.34,188.38 218.54,188.08 218.78,188.35 219.06,187.69 219.3,188.23 219.54,187.08 219.78,188.16 219.86,188.1 220.06,187.27 220.3,188.23 220.54,187.66 220.7,188.03 220.78,188.05 221.02,186.7 221.14,187.24 221.18,187.33 221.22,187.21 221.38,185.46 221.58,186.8 221.78,183.98 222.02,186.28 222.18,183.66 222.38,186.53 222.42,186.73 222.46,186.6 222.62,185.45 222.82,187.44 222.98,186.85 223.18,187.7 223.38,186.96 223.54,187.57 223.58,187.67 223.62,187.61 223.86,185.37 224.06,187.21 224.3,184.67 224.5,187.15 224.74,185.13 224.94,187.43 225.18,186.43 225.38,187.59 225.54,186.54 225.78,182.5 225.98,184.82 226.14,182.16 226.3,183.91 226.34,183.62 226.5,179 226.7,183.35 226.86,180.64 227.02,182.97 227.22,177.51 227.38,181.91 227.58,177.62 227.74,181.54 227.9,177.12 227.94,176.74 228.06,178.17 228.1,177.76 228.26,172.21 228.46,179.69 228.5,179.84 228.62,178.47 228.78,182.32 228.98,178.09 229.14,182.89 229.18,183.13 229.34,180.84 229.5,184.05 229.7,181.61 229.86,184.17 230.02,181.12 230.22,183.94 230.38,180.68 230.58,183.97 230.74,183.21 230.86,183.76 231.06,181.64 231.26,184.46 231.42,181.78 231.62,184.97 231.82,182.2 232.02,186.98 232.1,187.36 232.18,187.29 232.22,187.35 232.42,188.18 232.54,188.34 232.82,188.42 234.18,188.48 235.1,188.42 235.42,188.24 235.54,187.71 235.74,184.88 235.94,186.53 236.1,184.9 236.3,186.59 236.5,185.18 236.66,186.29 236.86,183.53 237.06,186.29 237.22,185.18 237.38,186.32 237.58,183.9 237.78,185.62 237.98,182.63 238.18,185.79 238.34,184.33 238.46,185.6 238.5,185.81 238.54,185.62 238.7,182.78 238.9,185.18 239.06,182.3 239.26,185.42 239.46,183.71 239.62,185.46 239.82,182.31 239.94,184.32 239.98,184.71 240.02,184.52 240.18,180.93 240.38,184.44 240.54,181.55 240.74,184.17 240.94,180.01 241.1,181.81 241.34,172.1 241.86,184.59 242.02,182.95 242.22,185.08 242.42,182.18 242.58,184.7 242.78,181.26 242.98,184.81 243.14,182.54 243.34,185.09 243.5,182.47 243.7,185.44 243.9,183.77 244.06,185.63 244.26,183.24 244.5,187.34 244.62,187.7 244.9,187.69 245.22,187.37 245.46,186.87 245.78,185.29 245.94,183.13 246.06,178.09 246.22,152.69 246.5,63.14 246.82,162.3 246.94,178.08 247.06,183.11 247.26,185.57 247.58,186.94 247.86,187.44 248.22,187.74 248.66,187.83 248.9,187.64 249.02,186.85 249.18,184.4 249.22,184.33 249.38,185.5 249.58,179.98 249.78,183.6 250.02,176.33 250.22,183.79 250.42,180.8 250.58,184.95 250.62,185.27 250.66,185.11 250.82,183.57 251.02,186.58 251.1,186.91 251.18,186.93 251.42,186.33 251.54,185.27 251.82,178.92 252.22,133.39 252.54,166.89 252.66,160.71 252.9,134.22 253.18,163.07 253.26,164.8 253.34,163.46 253.58,139.38 253.9,166.25 254.02,170.74 254.22,145.02 254.5,58.93 254.9,167.56 254.94,169.53 255.02,167.73 255.3,142.93 255.62,177.88 255.74,183.45 255.86,185.33 256.1,186.51 256.46,187.13 256.7,187.27 256.98,187.27 257.22,187.1 257.42,186.8 257.66,186.05 257.82,185.02 258.02,180.97 258.22,155.64 258.5,73.84 258.86,171.05 258.98,181.09 259.18,185.19 259.38,186.45 259.7,187.36 260.14,187.88 260.78,188.18 261.78,188.36 263.42,188.47 270.7,188.57" fill="#1f1f95" fill-opacity="0.5" stroke="#1f1f95" stroke-width="0.62" stroke-linejoin="round"/>
<line x1="18.5" y1="145.0" x2="18.5" y2="188.6" stroke="#4040aa" stroke-width="0.8"/>
<text x="86.4" y="192.8" font-size="2.8" textLength="3.1" lengthAdjust="spacingAndGlyphs" fill="#5aa85a" font-family="Liberation Sans, Arial, sans-serif">1.00</text>
<text x="93.2" y="192.8" font-size="2.8" textLength="5.4" lengthAdjust="spacingAndGlyphs" fill="#5aa85a" font-family="Liberation Sans, Arial, sans-serif">1.00</text>
<text x="98.8" y="192.8" font-size="2.8" textLength="5.3" lengthAdjust="spacingAndGlyphs" fill="#5aa85a" font-family="Liberation Sans, Arial, sans-serif">1.00</text>
<text x="111.8" y="192.8" font-size="2.8" textLength="5.5" lengthAdjust="spacingAndGlyphs" fill="#5aa85a" font-family="Liberation Sans, Arial, sans-serif">1.00</text>
<text x="184.2" y="192.8" font-size="2.8" textLength="6" lengthAdjust="spacingAndGlyphs" fill="#5aa85a" font-family="Liberation Sans, Arial, sans-serif">1.00</text>
<text x="198.2" y="192.8" font-size="2.8" textLength="3.2" lengthAdjust="spacingAndGlyphs" fill="#5aa85a" font-family="Liberation Sans, Arial, sans-serif">1.00</text>
<path d="M206.5,191.6 H225 M238,191.6 H258" stroke="#5aa85a" stroke-width="0.45"/>
<line x1="207" y1="190.8" x2="207" y2="192.6" stroke="#5aa85a" stroke-width="0.45"/>
<line x1="209.5" y1="190.8" x2="209.5" y2="192.6" stroke="#5aa85a" stroke-width="0.45"/>
<line x1="212" y1="190.8" x2="212" y2="192.6" stroke="#5aa85a" stroke-width="0.45"/>
<line x1="214.5" y1="190.8" x2="214.5" y2="192.6" stroke="#5aa85a" stroke-width="0.45"/>
<line x1="217" y1="190.8" x2="217" y2="192.6" stroke="#5aa85a" stroke-width="0.45"/>
<line x1="219.5" y1="190.8" x2="219.5" y2="192.6" stroke="#5aa85a" stroke-width="0.45"/>
<line x1="222" y1="190.8" x2="222" y2="192.6" stroke="#5aa85a" stroke-width="0.45"/>
<line x1="224.5" y1="190.8" x2="224.5" y2="192.6" stroke="#5aa85a" stroke-width="0.45"/>
<line x1="229.2" y1="190.8" x2="229.2" y2="192.6" stroke="#5aa85a" stroke-width="0.45"/>
<line x1="239" y1="190.8" x2="239" y2="192.6" stroke="#5aa85a" stroke-width="0.45"/>
<line x1="241.5" y1="190.8" x2="241.5" y2="192.6" stroke="#5aa85a" stroke-width="0.45"/>
<line x1="244" y1="190.8" x2="244" y2="192.6" stroke="#5aa85a" stroke-width="0.45"/>
<line x1="246.5" y1="190.8" x2="246.5" y2="192.6" stroke="#5aa85a" stroke-width="0.45"/>
<line x1="249" y1="190.8" x2="249" y2="192.6" stroke="#5aa85a" stroke-width="0.45"/>
<line x1="251.5" y1="190.8" x2="251.5" y2="192.6" stroke="#5aa85a" stroke-width="0.45"/>
<line x1="254" y1="190.8" x2="254" y2="192.6" stroke="#5aa85a" stroke-width="0.45"/>
<line x1="256.5" y1="190.8" x2="256.5" y2="192.6" stroke="#5aa85a" stroke-width="0.45"/>
<text transform="translate(89,200.6) rotate(-90)" font-size="3.0" textLength="5.4" lengthAdjust="spacingAndGlyphs" fill="#8a8ad0" font-family="Liberation Sans, Arial, sans-serif">5.36</text>
<text transform="translate(96.9,200.6) rotate(-90)" font-size="3.0" textLength="5.4" lengthAdjust="spacingAndGlyphs" fill="#8a8ad0" font-family="Liberation Sans, Arial, sans-serif">5.36</text>
<text transform="translate(101.9,200.6) rotate(-90)" font-size="3.0" textLength="5.4" lengthAdjust="spacingAndGlyphs" fill="#8a8ad0" font-family="Liberation Sans, Arial, sans-serif">5.36</text>
<text transform="translate(115.5,200.6) rotate(-90)" font-size="3.0" textLength="5.4" lengthAdjust="spacingAndGlyphs" fill="#8a8ad0" font-family="Liberation Sans, Arial, sans-serif">5.36</text>
<text transform="translate(186.2,200.6) rotate(-90)" font-size="3.0" textLength="5.4" lengthAdjust="spacingAndGlyphs" fill="#8a8ad0" font-family="Liberation Sans, Arial, sans-serif">5.36</text>
<text transform="translate(188.3,200.6) rotate(-90)" font-size="3.0" textLength="5.4" lengthAdjust="spacingAndGlyphs" fill="#8a8ad0" font-family="Liberation Sans, Arial, sans-serif">5.36</text>
<text transform="translate(200.9,200.6) rotate(-90)" font-size="3.0" textLength="5.4" lengthAdjust="spacingAndGlyphs" fill="#8a8ad0" font-family="Liberation Sans, Arial, sans-serif">5.36</text>
<text transform="translate(214.7,200.6) rotate(-90)" font-size="3.0" textLength="5.4" lengthAdjust="spacingAndGlyphs" fill="#8a8ad0" font-family="Liberation Sans, Arial, sans-serif">5.36</text>
<text transform="translate(217.8,200.6) rotate(-90)" font-size="3.0" textLength="5.4" lengthAdjust="spacingAndGlyphs" fill="#8a8ad0" font-family="Liberation Sans, Arial, sans-serif">5.36</text>
<text transform="translate(221.1,200.6) rotate(-90)" font-size="3.0" textLength="5.4" lengthAdjust="spacingAndGlyphs" fill="#8a8ad0" font-family="Liberation Sans, Arial, sans-serif">5.36</text>
<text transform="translate(230.2,200.6) rotate(-90)" font-size="3.0" textLength="5.4" lengthAdjust="spacingAndGlyphs" fill="#8a8ad0" font-family="Liberation Sans, Arial, sans-serif">5.36</text>
<text transform="translate(242.3,200.6) rotate(-90)" font-size="3.0" textLength="5.4" lengthAdjust="spacingAndGlyphs" fill="#8a8ad0" font-family="Liberation Sans, Arial, sans-serif">5.36</text>
<text transform="translate(245.8,200.6) rotate(-90)" font-size="3.0" textLength="5.4" lengthAdjust="spacingAndGlyphs" fill="#8a8ad0" font-family="Liberation Sans, Arial, sans-serif">5.36</text>
<text transform="translate(249.2,200.6) rotate(-90)" font-size="3.0" textLength="5.4" lengthAdjust="spacingAndGlyphs" fill="#8a8ad0" font-family="Liberation Sans, Arial, sans-serif">5.36</text>
<text transform="translate(252.7,200.6) rotate(-90)" font-size="3.0" textLength="5.4" lengthAdjust="spacingAndGlyphs" fill="#8a8ad0" font-family="Liberation Sans, Arial, sans-serif">5.36</text>
<text transform="translate(256.1,200.6) rotate(-90)" font-size="3.0" textLength="5.4" lengthAdjust="spacingAndGlyphs" fill="#8a8ad0" font-family="Liberation Sans, Arial, sans-serif">5.36</text>
<text transform="translate(258.7,200.6) rotate(-90)" font-size="3.0" textLength="5.4" lengthAdjust="spacingAndGlyphs" fill="#8a8ad0" font-family="Liberation Sans, Arial, sans-serif">5.36</text>
<line x1="3" y1="203.5" x2="270.5" y2="203.5" stroke="#555" stroke-width="0.45"/>
<line x1="10.4" y1="202.6" x2="10.4" y2="204.4" stroke="#555" stroke-width="0.45"/>
<text x="10.4" y="209.1" font-size="3.5" text-anchor="middle" fill="#444" font-family="Liberation Serif, Times New Roman, serif">7.5</text>
<line x1="28.59" y1="202.6" x2="28.59" y2="204.4" stroke="#555" stroke-width="0.45"/>
<text x="28.59" y="209.1" font-size="3.5" text-anchor="middle" fill="#444" font-family="Liberation Serif, Times New Roman, serif">7.0</text>
<line x1="46.78" y1="202.6" x2="46.78" y2="204.4" stroke="#555" stroke-width="0.45"/>
<text x="46.78" y="209.1" font-size="3.5" text-anchor="middle" fill="#444" font-family="Liberation Serif, Times New Roman, serif">6.5</text>
<line x1="64.97" y1="202.6" x2="64.97" y2="204.4" stroke="#555" stroke-width="0.45"/>
<text x="64.97" y="209.1" font-size="3.5" text-anchor="middle" fill="#444" font-family="Liberation Serif, Times New Roman, serif">6.0</text>
<line x1="83.16" y1="202.6" x2="83.16" y2="204.4" stroke="#555" stroke-width="0.45"/>
<text x="83.16" y="209.1" font-size="3.5" text-anchor="middle" fill="#444" font-family="Liberation Serif, Times New Roman, serif">5.5</text>
<line x1="101.35" y1="202.6" x2="101.35" y2="204.4" stroke="#555" stroke-width="0.45"/>
<text x="101.35" y="209.1" font-size="3.5" text-anchor="middle" fill="#444" font-family="Liberation Serif, Times New Roman, serif">5.0</text>
<line x1="119.54" y1="202.6" x2="119.54" y2="204.4" stroke="#555" stroke-width="0.45"/>
<text x="119.54" y="209.1" font-size="3.5" text-anchor="middle" fill="#444" font-family="Liberation Serif, Times New Roman, serif">4.5</text>
<line x1="137.73" y1="202.6" x2="137.73" y2="204.4" stroke="#555" stroke-width="0.45"/>
<text x="137.73" y="209.1" font-size="3.5" text-anchor="middle" fill="#444" font-family="Liberation Serif, Times New Roman, serif">4.0</text>
<line x1="155.92" y1="202.6" x2="155.92" y2="204.4" stroke="#555" stroke-width="0.45"/>
<text x="155.92" y="209.1" font-size="3.5" text-anchor="middle" fill="#444" font-family="Liberation Serif, Times New Roman, serif">3.5</text>
<line x1="174.11" y1="202.6" x2="174.11" y2="204.4" stroke="#555" stroke-width="0.45"/>
<text x="174.11" y="209.1" font-size="3.5" text-anchor="middle" fill="#444" font-family="Liberation Serif, Times New Roman, serif">3.0</text>
<line x1="192.3" y1="202.6" x2="192.3" y2="204.4" stroke="#555" stroke-width="0.45"/>
<text x="192.3" y="209.1" font-size="3.5" text-anchor="middle" fill="#444" font-family="Liberation Serif, Times New Roman, serif">2.5</text>
<line x1="210.49" y1="202.6" x2="210.49" y2="204.4" stroke="#555" stroke-width="0.45"/>
<text x="210.49" y="209.1" font-size="3.5" text-anchor="middle" fill="#444" font-family="Liberation Serif, Times New Roman, serif">2.0</text>
<line x1="228.68" y1="202.6" x2="228.68" y2="204.4" stroke="#555" stroke-width="0.45"/>
<text x="228.68" y="209.1" font-size="3.5" text-anchor="middle" fill="#444" font-family="Liberation Serif, Times New Roman, serif">1.5</text>
<line x1="246.87" y1="202.6" x2="246.87" y2="204.4" stroke="#555" stroke-width="0.45"/>
<text x="246.87" y="209.1" font-size="3.5" text-anchor="middle" fill="#444" font-family="Liberation Serif, Times New Roman, serif">1.0</text>
<line x1="265.06" y1="202.6" x2="265.06" y2="204.4" stroke="#555" stroke-width="0.45"/>
<text x="265.06" y="209.1" font-size="3.5" text-anchor="middle" fill="#444" font-family="Liberation Serif, Times New Roman, serif">0.5</text>
<line x1="19.5" y1="202.9" x2="19.5" y2="204.1" stroke="#555" stroke-width="0.4"/>
<line x1="37.69" y1="202.9" x2="37.69" y2="204.1" stroke="#555" stroke-width="0.4"/>
<line x1="55.88" y1="202.9" x2="55.88" y2="204.1" stroke="#555" stroke-width="0.4"/>
<line x1="74.07" y1="202.9" x2="74.07" y2="204.1" stroke="#555" stroke-width="0.4"/>
<line x1="92.26" y1="202.9" x2="92.26" y2="204.1" stroke="#555" stroke-width="0.4"/>
<line x1="110.45" y1="202.9" x2="110.45" y2="204.1" stroke="#555" stroke-width="0.4"/>
<line x1="128.64" y1="202.9" x2="128.64" y2="204.1" stroke="#555" stroke-width="0.4"/>
<line x1="146.83" y1="202.9" x2="146.83" y2="204.1" stroke="#555" stroke-width="0.4"/>
<line x1="165.02" y1="202.9" x2="165.02" y2="204.1" stroke="#555" stroke-width="0.4"/>
<line x1="183.21" y1="202.9" x2="183.21" y2="204.1" stroke="#555" stroke-width="0.4"/>
<line x1="201.4" y1="202.9" x2="201.4" y2="204.1" stroke="#555" stroke-width="0.4"/>
<line x1="219.59" y1="202.9" x2="219.59" y2="204.1" stroke="#555" stroke-width="0.4"/>
<line x1="237.78" y1="202.9" x2="237.78" y2="204.1" stroke="#555" stroke-width="0.4"/>
<line x1="255.97" y1="202.9" x2="255.97" y2="204.1" stroke="#555" stroke-width="0.4"/>
<text x="137.2" y="212.8" font-size="2.8" text-anchor="middle" fill="#555" font-family="Liberation Sans, Arial, sans-serif">f1 (ppm)</text>
<polyline points="275.4,192.81 276.1,193.15 276.8,192.96 277.5,193.21 278.2,193.24 278.9,192.62 279.6,192.56 280.3,193.47 281,192.84 281.7,192.81 282.4,193.65 283.1,193.07 283.8,193.47 284.5,193.07 285.2,193.25 285.9,192.72 286.6,193.25 287.3,193.5 288,193.13 288.7,193.37 289.4,193.29 290.1,192.62 290.8,193.38 291.5,193.2 292.2,192.88 292.9,192.58 293.6,193.5 294.3,193.07 295,193.34 295.7,193.52 296.4,193.34 297.1,193.56 297.8,192.98 298.5,193.43 299.2,193.04 299.9,193.58 300.6,193.52 301.3,192.66 302,192.7 302.7,192.79 303.4,193.61 304.1,193.03 304.8,193.24 305.5,192.88 306.2,193.11 306.9,192.97 307.6,192.94 308.3,193.19 309,193.19 309.7,193.54 310.4,193.3 311.1,193.57 311.8,193.49 312.5,193.64 313.2,193.29 313.9,192.73 314.6,193.5 315.3,193.61 316,193.55 316.7,193.18 317.4,193.34 318.1,192.78 318.8,193.46 319.5,193.18 320.2,192.86 320.9,192.62 321.6,193.49 322.3,193.64 323,192.65 323.7,193.43 324.4,193 325.1,192.72 325.8,192.87 326.5,193.4 327.2,193.51 327.9,192.6 328.6,193.23 329.3,192.6 330,193.34 330.7,192.91 331.4,193.52 332.1,193.63 332.8,193.11 333.5,193.65 334.2,192.89 334.9,192.63 335.6,193.21 336.3,192.58 337,192.77 337.7,193 338.4,193.22 339.1,192.72 339.8,192.6 340.5,193.5 341.2,192.9 341.9,193.6 342.6,193.54 343.3,192.97 344,193.06 344.7,193.12 345.4,193.26 346.1,193.21 346.8,193.17 347.5,193.23 348.2,193.58 348.9,193.11 349.6,193.02 350.3,193.34 351,192.81 351.7,192.88 352.4,193.63 353.1,193.12 353.8,193.15 354.5,192.56 355.2,193.01 355.9,193.19 356.6,192.57 357.3,193.23 358,193.25 358.7,192.62 359.4,193.24 360.1,193.06 360.8,193.3 361.5,192.94 362.2,193.33 362.9,193.36 363.6,192.57 364.3,192.62 365,193.29 365.7,193.61 366.4,192.83 367.1,193.05 367.8,193.2 368.5,192.9 369.2,192.95 369.9,192.89 370.6,192.96 371.3,193.21 372,192.88 372.7,192.96 373.4,193.4 374.1,192.58 374.8,193.18 375.5,193.36 376.2,192.89 376.9,192.79 377.6,193.43 378.3,192.81 379,192.76 379.7,193.03 380.4,193.32 381.1,192.66 381.8,192.9 382.5,192.92 383.2,193.47 383.9,193.03 384.6,193.49 385.3,192.74 386,192.92 386.7,193.27 387.4,193.52 388.1,193.05 388.8,192.8 389.5,192.68 390.2,193.13 390.9,192.76 391.6,193.44 392.3,193.47 393,192.75 393.7,192.86 394.4,193.44 395.1,193.26 395.8,193.44 396.5,192.93 397.2,192.69 397.9,192.87 398.6,193.42 399.3,192.85 400,192.93 400.7,193.01 401.4,193.01 402.1,193 402.8,193.56 403.5,192.72 404.2,192.56 404.9,193.59 405.6,193.52 406.3,193.64 407,193.03 407.7,193.6 408.4,193.57 409.1,192.79 409.8,193.37 410.5,193.47 411.2,193.28 411.9,193.12 412.6,192.87 413.3,192.93 414,192.8 414.7,192.62 415.4,193.2 416.1,192.87 416.8,193.44 417.5,192.6 418.2,193.54 418.9,193.31 419.6,193.57 420.3,193.54 421,193.54 421.7,193.18 422.4,192.56 423.1,193.37 423.8,192.74 424.5,192.88 425.2,193.28 425.9,193.13 426.6,193.01 427.3,193.58 428,193.22 428.7,192.93 429.4,192.83 430.1,193.5 430.8,193.07 431.5,193.41 432.2,192.94 432.9,192.77 433.6,193.14 434.3,193.45 435,192.74 435.7,193.42 436.4,193.56 437.1,193.44 437.8,193.46 438.5,192.56 439.2,193.24 439.9,193.5 440.6,192.6 441.3,192.85 442,192.85 442.7,193.13 443.4,193.02 444.1,193.07 444.8,193.4 445.5,192.55 446.2,192.61 446.9,192.69 447.6,192.69 448.3,192.63 449,193.62 449.7,193.49 450.4,192.64 451.1,193.1 451.8,192.9 452.5,192.9 453.2,192.94 453.9,193.26 454.6,193.2 455.3,192.95 456,192.76 456.7,192.91 457.4,192.69 458.1,193.16 458.8,193.34 459.5,192.97 460.2,192.64 460.9,192.75 461.6,192.96 462.3,193.21 463,193.41 463.7,192.97 464.4,193.43 465.1,193.24 465.8,193.02 466.5,192.96 467.2,193.1 467.9,193.32 468.6,193.01 469.3,193.31 470,193.06 470.7,192.82 471.4,193.14 472.1,193.31 472.8,192.63 473.5,193.02 474.2,193.02 474.9,193.52 475.6,193.58 476.3,192.96 477,193.54 477.7,193.42 478.4,192.84 479.1,193.06 479.8,192.69 480.5,193.44 481.2,193.28 481.9,193.53 482.6,193.42 483.3,193.28 484,193.36 484.7,193.17 485.4,192.66 486.1,193.2 486.8,192.56 487.5,192.71 488.2,193.4 488.9,192.6 489.6,192.65 490.3,192.66 491,193.52 491.7,192.75 492.4,192.58 493.1,193.48 493.8,192.68 494.5,193.48 495.2,193.29 495.9,193.47 496.6,193.6 497.3,193.19 498,193.43 498.7,192.59 499.4,193.39 500.1,193.11 500.8,193.34 501.5,192.67 502.2,193.37 502.9,193.58 503.6,192.62 504.3,192.91 505,193.17 505.7,193.46 506.4,192.82 507.1,192.75 507.8,192.82 508.5,193.23 509.2,193.38 509.9,192.98 510.6,192.95 511.3,192.99 512,192.94 512.7,193.01 513.4,192.64 514.1,193.1 514.8,193.62 515.5,193 516.2,193.37 516.9,192.73 517.6,193.31 518.3,193.38 519,193.29 519.7,193.12 520.4,193.08 521.1,193.26 521.8,193.54 522.5,192.71 523.2,192.66 523.9,193.37 524.6,193.56 525.3,193.12 526,193.04 526.7,193.34 527.4,192.75 528.1,192.84 528.8,192.77 529.5,193.19 530.2,192.9 530.9,192.81 531.6,193.31 532.3,193.6 533,192.88 533.7,193.33 534.4,193 535.1,193.49 535.8,193.19 536.5,192.84 537.2,192.79 537.9,192.58 538.6,193.08 539.3,192.97 540,192.74 540.7,192.95 541.4,192.9 542.1,193.4 542.8,192.71 543.5,193.64 544.2,193.08 544.9,193.21" fill="none" stroke="#14148c" stroke-width="1.5"/>
<line x1="336.5" y1="193.1" x2="336.5" y2="164.2" stroke="#6464b8" stroke-width="0.85"/>
<rect x="336.05" y="162" width="0.9" height="0.9" fill="#8080c8"/>
<line x1="343.5" y1="193.1" x2="343.5" y2="163.4" stroke="#6464b8" stroke-width="0.85"/>
<rect x="343.05" y="161.2" width="0.9" height="0.9" fill="#8080c8"/>
<line x1="382.5" y1="193.1" x2="382.5" y2="158.4" stroke="#6464b8" stroke-width="0.85"/>
<rect x="382.05" y="156.2" width="0.9" height="0.9" fill="#8080c8"/>
<line x1="383.5" y1="193.1" x2="383.5" y2="143" stroke="#6464b8" stroke-width="0.85"/>
<rect x="383.05" y="140.8" width="0.9" height="0.9" fill="#8080c8"/>
<line x1="394.5" y1="193.1" x2="394.5" y2="143" stroke="#6464b8" stroke-width="0.85"/>
<rect x="394.05" y="140.8" width="0.9" height="0.9" fill="#8080c8"/>
<line x1="402.5" y1="193.1" x2="402.5" y2="143" stroke="#6464b8" stroke-width="0.85"/>
<rect x="402.05" y="140.8" width="0.9" height="0.9" fill="#8080c8"/>
<line x1="457.5" y1="193.1" x2="457.5" y2="63" stroke="#1f1f95" stroke-width="1.5"/>
<rect x="457.05" y="60.8" width="0.9" height="0.9" fill="#8080c8"/>
<line x1="460.5" y1="193.1" x2="460.5" y2="144.8" stroke="#6464b8" stroke-width="0.85"/>
<rect x="460.05" y="142.6" width="0.9" height="0.9" fill="#8080c8"/>
<line x1="481.5" y1="193.1" x2="481.5" y2="142.9" stroke="#6464b8" stroke-width="0.85"/>
<rect x="481.05" y="140.7" width="0.9" height="0.9" fill="#8080c8"/>
<line x1="482.5" y1="193.1" x2="482.5" y2="142.9" stroke="#6464b8" stroke-width="0.85"/>
<rect x="482.05" y="140.7" width="0.9" height="0.9" fill="#8080c8"/>
<line x1="488.5" y1="193.1" x2="488.5" y2="140.6" stroke="#6464b8" stroke-width="0.85"/>
<rect x="488.05" y="138.4" width="0.9" height="0.9" fill="#8080c8"/>
<line x1="489.5" y1="193.1" x2="489.5" y2="143.9" stroke="#6464b8" stroke-width="0.85"/>
<rect x="489.05" y="141.7" width="0.9" height="0.9" fill="#8080c8"/>
<line x1="498.5" y1="193.1" x2="498.5" y2="147.3" stroke="#6464b8" stroke-width="0.85"/>
<rect x="498.05" y="145.1" width="0.9" height="0.9" fill="#8080c8"/>
<line x1="500.5" y1="193.1" x2="500.5" y2="141.6" stroke="#6464b8" stroke-width="0.85"/>
<rect x="500.05" y="139.4" width="0.9" height="0.9" fill="#8080c8"/>
<line x1="503.5" y1="193.1" x2="503.5" y2="148.8" stroke="#6464b8" stroke-width="0.85"/>
<rect x="503.05" y="146.6" width="0.9" height="0.9" fill="#8080c8"/>
<line x1="505.5" y1="193.1" x2="505.5" y2="150.2" stroke="#6464b8" stroke-width="0.85"/>
<rect x="505.05" y="148" width="0.9" height="0.9" fill="#8080c8"/>
<line x1="511.5" y1="193.1" x2="511.5" y2="86.3" stroke="#3a3aa6" stroke-width="0.85"/>
<rect x="511.05" y="84.1" width="0.9" height="0.9" fill="#8080c8"/>
<line x1="514.5" y1="193.1" x2="514.5" y2="145.9" stroke="#6464b8" stroke-width="0.85"/>
<rect x="514.05" y="143.7" width="0.9" height="0.9" fill="#8080c8"/>
<line x1="515.5" y1="193.1" x2="515.5" y2="143" stroke="#6464b8" stroke-width="0.85"/>
<rect x="515.05" y="140.8" width="0.9" height="0.9" fill="#8080c8"/>
<line x1="519.5" y1="193.1" x2="519.5" y2="141.6" stroke="#6464b8" stroke-width="0.85"/>
<rect x="519.05" y="139.4" width="0.9" height="0.9" fill="#8080c8"/>
<line x1="520.5" y1="193.1" x2="520.5" y2="150.2" stroke="#6464b8" stroke-width="0.85"/>
<rect x="520.05" y="148" width="0.9" height="0.9" fill="#8080c8"/>
<line x1="524.5" y1="193.1" x2="524.5" y2="128.7" stroke="#6464b8" stroke-width="0.85"/>
<rect x="524.05" y="126.5" width="0.9" height="0.9" fill="#8080c8"/>
<line x1="526.5" y1="193.1" x2="526.5" y2="131.6" stroke="#6464b8" stroke-width="0.85"/>
<rect x="526.05" y="129.4" width="0.9" height="0.9" fill="#8080c8"/>
<line x1="535.5" y1="193.1" x2="535.5" y2="131" stroke="#6464b8" stroke-width="0.85"/>
<rect x="535.05" y="128.8" width="0.9" height="0.9" fill="#8080c8"/>
<line x1="276.5" y1="203.2" x2="545" y2="203.2" stroke="#999" stroke-width="0.45" stroke-dasharray="0.8 1.6"/>
<line x1="286" y1="202.3" x2="286" y2="204.1" stroke="#555" stroke-width="0.45"/>
<text x="286" y="209.2" font-size="3.5" text-anchor="middle" fill="#444" font-family="Liberation Serif, Times New Roman, serif">220</text>
<line x1="298" y1="202.3" x2="298" y2="204.1" stroke="#555" stroke-width="0.45"/>
<text x="298" y="209.2" font-size="3.5" text-anchor="middle" fill="#444" font-family="Liberation Serif, Times New Roman, serif">210</text>
<line x1="310" y1="202.3" x2="310" y2="204.1" stroke="#555" stroke-width="0.45"/>
<text x="310" y="209.2" font-size="3.5" text-anchor="middle" fill="#444" font-family="Liberation Serif, Times New Roman, serif">200</text>
<line x1="322" y1="202.3" x2="322" y2="204.1" stroke="#555" stroke-width="0.45"/>
<text x="322" y="209.2" font-size="3.5" text-anchor="middle" fill="#444" font-family="Liberation Serif, Times New Roman, serif">190</text>
<line x1="334" y1="202.3" x2="334" y2="204.1" stroke="#555" stroke-width="0.45"/>
<text x="334" y="209.2" font-size="3.5" text-anchor="middle" fill="#444" font-family="Liberation Serif, Times New Roman, serif">180</text>
<line x1="346" y1="202.3" x2="346" y2="204.1" stroke="#555" stroke-width="0.45"/>
<text x="346" y="209.2" font-size="3.5" text-anchor="middle" fill="#444" font-family="Liberation Serif, Times New Roman, serif">170</text>
<line x1="358" y1="202.3" x2="358" y2="204.1" stroke="#555" stroke-width="0.45"/>
<text x="358" y="209.2" font-size="3.5" text-anchor="middle" fill="#444" font-family="Liberation Serif, Times New Roman, serif">160</text>
<line x1="370" y1="202.3" x2="370" y2="204.1" stroke="#555" stroke-width="0.45"/>
<text x="370" y="209.2" font-size="3.5" text-anchor="middle" fill="#444" font-family="Liberation Serif, Times New Roman, serif">150</text>
<line x1="382" y1="202.3" x2="382" y2="204.1" stroke="#555" stroke-width="0.45"/>
<text x="382" y="209.2" font-size="3.5" text-anchor="middle" fill="#444" font-family="Liberation Serif, Times New Roman, serif">140</text>
<line x1="394" y1="202.3" x2="394" y2="204.1" stroke="#555" stroke-width="0.45"/>
<text x="394" y="209.2" font-size="3.5" text-anchor="middle" fill="#444" font-family="Liberation Serif, Times New Roman, serif">130</text>
<line x1="406" y1="202.3" x2="406" y2="204.1" stroke="#555" stroke-width="0.45"/>
<text x="406" y="209.2" font-size="3.5" text-anchor="middle" fill="#444" font-family="Liberation Serif, Times New Roman, serif">120</text>
<line x1="418" y1="202.3" x2="418" y2="204.1" stroke="#555" stroke-width="0.45"/>
<text x="418" y="209.2" font-size="3.5" text-anchor="middle" fill="#444" font-family="Liberation Serif, Times New Roman, serif">110</text>
<line x1="430" y1="202.3" x2="430" y2="204.1" stroke="#555" stroke-width="0.45"/>
<text x="430" y="209.2" font-size="3.5" text-anchor="middle" fill="#444" font-family="Liberation Serif, Times New Roman, serif">100</text>
<line x1="442" y1="202.3" x2="442" y2="204.1" stroke="#555" stroke-width="0.45"/>
<text x="442" y="209.2" font-size="3.5" text-anchor="middle" fill="#444" font-family="Liberation Serif, Times New Roman, serif">90</text>
<line x1="454" y1="202.3" x2="454" y2="204.1" stroke="#555" stroke-width="0.45"/>
<text x="454" y="209.2" font-size="3.5" text-anchor="middle" fill="#444" font-family="Liberation Serif, Times New Roman, serif">80</text>
<line x1="466" y1="202.3" x2="466" y2="204.1" stroke="#555" stroke-width="0.45"/>
<text x="466" y="209.2" font-size="3.5" text-anchor="middle" fill="#444" font-family="Liberation Serif, Times New Roman, serif">70</text>
<line x1="478" y1="202.3" x2="478" y2="204.1" stroke="#555" stroke-width="0.45"/>
<text x="478" y="209.2" font-size="3.5" text-anchor="middle" fill="#444" font-family="Liberation Serif, Times New Roman, serif">60</text>
<line x1="490" y1="202.3" x2="490" y2="204.1" stroke="#555" stroke-width="0.45"/>
<text x="490" y="209.2" font-size="3.5" text-anchor="middle" fill="#444" font-family="Liberation Serif, Times New Roman, serif">50</text>
<line x1="502" y1="202.3" x2="502" y2="204.1" stroke="#555" stroke-width="0.45"/>
<text x="502" y="209.2" font-size="3.5" text-anchor="middle" fill="#444" font-family="Liberation Serif, Times New Roman, serif">40</text>
<line x1="514" y1="202.3" x2="514" y2="204.1" stroke="#555" stroke-width="0.45"/>
<text x="514" y="209.2" font-size="3.5" text-anchor="middle" fill="#444" font-family="Liberation Serif, Times New Roman, serif">30</text>
<line x1="526" y1="202.3" x2="526" y2="204.1" stroke="#555" stroke-width="0.45"/>
<text x="526" y="209.2" font-size="3.5" text-anchor="middle" fill="#444" font-family="Liberation Serif, Times New Roman, serif">20</text>
<line x1="538" y1="202.3" x2="538" y2="204.1" stroke="#555" stroke-width="0.45"/>
<text x="538" y="209.2" font-size="3.5" text-anchor="middle" fill="#444" font-family="Liberation Serif, Times New Roman, serif">10</text>
<line x1="292" y1="202.6" x2="292" y2="203.8" stroke="#555" stroke-width="0.4"/>
<line x1="304" y1="202.6" x2="304" y2="203.8" stroke="#555" stroke-width="0.4"/>
<line x1="316" y1="202.6" x2="316" y2="203.8" stroke="#555" stroke-width="0.4"/>
<line x1="328" y1="202.6" x2="328" y2="203.8" stroke="#555" stroke-width="0.4"/>
<line x1="340" y1="202.6" x2="340" y2="203.8" stroke="#555" stroke-width="0.4"/>
<line x1="352" y1="202.6" x2="352" y2="203.8" stroke="#555" stroke-width="0.4"/>
<line x1="364" y1="202.6" x2="364" y2="203.8" stroke="#555" stroke-width="0.4"/>
<line x1="376" y1="202.6" x2="376" y2="203.8" stroke="#555" stroke-width="0.4"/>
<line x1="388" y1="202.6" x2="388" y2="203.8" stroke="#555" stroke-width="0.4"/>
<line x1="400" y1="202.6" x2="400" y2="203.8" stroke="#555" stroke-width="0.4"/>
<line x1="412" y1="202.6" x2="412" y2="203.8" stroke="#555" stroke-width="0.4"/>
<line x1="424" y1="202.6" x2="424" y2="203.8" stroke="#555" stroke-width="0.4"/>
<line x1="436" y1="202.6" x2="436" y2="203.8" stroke="#555" stroke-width="0.4"/>
<line x1="448" y1="202.6" x2="448" y2="203.8" stroke="#555" stroke-width="0.4"/>
<line x1="460" y1="202.6" x2="460" y2="203.8" stroke="#555" stroke-width="0.4"/>
<line x1="472" y1="202.6" x2="472" y2="203.8" stroke="#555" stroke-width="0.4"/>
<line x1="484" y1="202.6" x2="484" y2="203.8" stroke="#555" stroke-width="0.4"/>
<line x1="496" y1="202.6" x2="496" y2="203.8" stroke="#555" stroke-width="0.4"/>
<line x1="508" y1="202.6" x2="508" y2="203.8" stroke="#555" stroke-width="0.4"/>
<line x1="520" y1="202.6" x2="520" y2="203.8" stroke="#555" stroke-width="0.4"/>
<line x1="532" y1="202.6" x2="532" y2="203.8" stroke="#555" stroke-width="0.4"/>
<text x="409.7" y="212.9" font-size="2.8" text-anchor="middle" fill="#555" font-family="Liberation Sans, Arial, sans-serif">f1 (ppm)</text>
<rect x="335.8" y="17.5" width="1.6" height="2.7" fill="#c0c0e8"/><rect x="335.8" y="20.9" width="1.6" height="2.7" fill="#c0c0e8"/>
<text transform="translate(336.85,23.6) rotate(-90)" font-size="2.2" textLength="6.1" lengthAdjust="spacingAndGlyphs" fill="#5a5ab6" font-family="Liberation Sans, Arial, sans-serif">178.4</text>
<line x1="335.9" y1="24.2" x2="335.9" y2="28.2" stroke="#5a5ab8" stroke-width="0.5"/>
<rect x="343.5" y="17.5" width="1.6" height="2.7" fill="#c0c0e8"/><rect x="343.5" y="20.9" width="1.6" height="2.7" fill="#c0c0e8"/>
<text transform="translate(344.55,23.6) rotate(-90)" font-size="2.2" textLength="6.1" lengthAdjust="spacingAndGlyphs" fill="#5a5ab6" font-family="Liberation Sans, Arial, sans-serif">171.8</text>
<line x1="343.6" y1="24.2" x2="343.6" y2="28.2" stroke="#5a5ab8" stroke-width="0.5"/>
<rect x="380.7" y="17.5" width="1.6" height="2.7" fill="#c0c0e8"/><rect x="380.7" y="20.9" width="1.6" height="2.7" fill="#c0c0e8"/>
<text transform="translate(381.75,23.6) rotate(-90)" font-size="2.2" textLength="6.1" lengthAdjust="spacingAndGlyphs" fill="#5a5ab6" font-family="Liberation Sans, Arial, sans-serif">139.7</text>
<rect x="383.5" y="17.5" width="1.6" height="2.7" fill="#c0c0e8"/><rect x="383.5" y="20.9" width="1.6" height="2.7" fill="#c0c0e8"/>
<text transform="translate(384.55,23.6) rotate(-90)" font-size="2.2" textLength="6.1" lengthAdjust="spacingAndGlyphs" fill="#5a5ab6" font-family="Liberation Sans, Arial, sans-serif">138.3</text>
<path d="M380.8,24.2 L380.8,25.4 L382.2,28.0" stroke="#5a5ab8" stroke-width="0.5" fill="none"/>
<path d="M383.6,24.2 L383.6,25.4 L382.2,28.0" stroke="#5a5ab8" stroke-width="0.5" fill="none"/>
<circle cx="382.2" cy="27.9" r="0.55" fill="#3a3aa8"/>
<rect x="394.4" y="17.5" width="1.6" height="2.7" fill="#c0c0e8"/><rect x="394.4" y="20.9" width="1.6" height="2.7" fill="#c0c0e8"/>
<text transform="translate(395.45,23.6) rotate(-90)" font-size="2.2" textLength="6.1" lengthAdjust="spacingAndGlyphs" fill="#5a5ab6" font-family="Liberation Sans, Arial, sans-serif">129.3</text>
<line x1="394.5" y1="24.2" x2="394.5" y2="28.2" stroke="#5a5ab8" stroke-width="0.5"/>
<rect x="402" y="17.5" width="1.6" height="2.7" fill="#c0c0e8"/><rect x="402" y="20.9" width="1.6" height="2.7" fill="#c0c0e8"/>
<text transform="translate(403.05,23.6) rotate(-90)" font-size="2.2" textLength="6.1" lengthAdjust="spacingAndGlyphs" fill="#5a5ab6" font-family="Liberation Sans, Arial, sans-serif">122.7</text>
<line x1="402.1" y1="24.2" x2="402.1" y2="28.2" stroke="#5a5ab8" stroke-width="0.5"/>
<rect x="453" y="17.5" width="1.6" height="2.7" fill="#c0c0e8"/><rect x="453" y="20.9" width="1.6" height="2.7" fill="#c0c0e8"/>
<text transform="translate(454.05,23.6) rotate(-90)" font-size="2.2" textLength="6.1" lengthAdjust="spacingAndGlyphs" fill="#5a5ab6" font-family="Liberation Sans, Arial, sans-serif">77.3</text>
<rect x="456.6" y="17.5" width="1.6" height="2.7" fill="#c0c0e8"/><rect x="456.6" y="20.9" width="1.6" height="2.7" fill="#c0c0e8"/>
<text transform="translate(457.65,23.6) rotate(-90)" font-size="2.2" textLength="6.1" lengthAdjust="spacingAndGlyphs" fill="#5a5ab6" font-family="Liberation Sans, Arial, sans-serif">77.0</text>
<rect x="459.9" y="17.5" width="1.6" height="2.7" fill="#c0c0e8"/><rect x="459.9" y="20.9" width="1.6" height="2.7" fill="#c0c0e8"/>
<text transform="translate(460.95,23.6) rotate(-90)" font-size="2.2" textLength="6.1" lengthAdjust="spacingAndGlyphs" fill="#5a5ab6" font-family="Liberation Sans, Arial, sans-serif">76.7</text>
<rect x="463.3" y="17.5" width="1.6" height="2.7" fill="#c0c0e8"/><rect x="463.3" y="20.9" width="1.6" height="2.7" fill="#c0c0e8"/>
<text transform="translate(464.35,23.6) rotate(-90)" font-size="2.2" textLength="6.1" lengthAdjust="spacingAndGlyphs" fill="#5a5ab6" font-family="Liberation Sans, Arial, sans-serif">74.4</text>
<path d="M453.1,24.2 L453.1,25.4 L456,28.0" stroke="#5a5ab8" stroke-width="0.5" fill="none"/>
<path d="M456.7,24.2 L456.7,25.4 L457.5,28.0" stroke="#5a5ab8" stroke-width="0.5" fill="none"/>
<path d="M460,24.2 L460,25.4 L458.5,28.0" stroke="#5a5ab8" stroke-width="0.5" fill="none"/>
<path d="M463.4,24.2 L463.4,25.4 L461.5,28.0" stroke="#5a5ab8" stroke-width="0.5" fill="none"/>
<circle cx="456" cy="27.9" r="0.55" fill="#3a3aa8"/>
<circle cx="457.5" cy="27.9" r="0.55" fill="#3a3aa8"/>
<circle cx="458.5" cy="27.9" r="0.55" fill="#3a3aa8"/>
<circle cx="461.5" cy="27.9" r="0.55" fill="#3a3aa8"/>
<rect x="479.9" y="17.5" width="1.6" height="2.7" fill="#c0c0e8"/><rect x="479.9" y="20.9" width="1.6" height="2.7" fill="#c0c0e8"/>
<text transform="translate(480.95,23.6) rotate(-90)" font-size="2.2" textLength="6.1" lengthAdjust="spacingAndGlyphs" fill="#5a5ab6" font-family="Liberation Sans, Arial, sans-serif">56.7</text>
<rect x="483.5" y="17.5" width="1.6" height="2.7" fill="#c0c0e8"/><rect x="483.5" y="20.9" width="1.6" height="2.7" fill="#c0c0e8"/>
<text transform="translate(484.55,23.6) rotate(-90)" font-size="2.2" textLength="6.1" lengthAdjust="spacingAndGlyphs" fill="#5a5ab6" font-family="Liberation Sans, Arial, sans-serif">56.0</text>
<rect x="487.2" y="17.5" width="1.6" height="2.7" fill="#c0c0e8"/><rect x="487.2" y="20.9" width="1.6" height="2.7" fill="#c0c0e8"/>
<text transform="translate(488.25,23.6) rotate(-90)" font-size="2.2" textLength="6.1" lengthAdjust="spacingAndGlyphs" fill="#5a5ab6" font-family="Liberation Sans, Arial, sans-serif">51.2</text>
<rect x="490.8" y="17.5" width="1.6" height="2.7" fill="#c0c0e8"/><rect x="490.8" y="20.9" width="1.6" height="2.7" fill="#c0c0e8"/>
<text transform="translate(491.85,23.6) rotate(-90)" font-size="2.2" textLength="6.1" lengthAdjust="spacingAndGlyphs" fill="#5a5ab6" font-family="Liberation Sans, Arial, sans-serif">50.1</text>
<path d="M480,24.2 L480,25.4 L481.8,28.0" stroke="#5a5ab8" stroke-width="0.5" fill="none"/>
<path d="M483.6,24.2 L483.6,25.4 L481.8,28.0" stroke="#5a5ab8" stroke-width="0.5" fill="none"/>
<path d="M487.3,24.2 L487.3,25.4 L489.1,28.0" stroke="#5a5ab8" stroke-width="0.5" fill="none"/>
<path d="M490.9,24.2 L490.9,25.4 L489.1,28.0" stroke="#5a5ab8" stroke-width="0.5" fill="none"/>
<circle cx="481.8" cy="27.9" r="0.55" fill="#3a3aa8"/>
<circle cx="489.1" cy="27.9" r="0.55" fill="#3a3aa8"/>
<rect x="497.8" y="17.5" width="1.6" height="2.7" fill="#c0c0e8"/><rect x="497.8" y="20.9" width="1.6" height="2.7" fill="#c0c0e8"/>
<text transform="translate(498.85,23.6) rotate(-90)" font-size="2.2" textLength="6.1" lengthAdjust="spacingAndGlyphs" fill="#5a5ab6" font-family="Liberation Sans, Arial, sans-serif">40.00</text>
<rect x="500.78" y="17.5" width="1.6" height="2.7" fill="#c0c0e8"/><rect x="500.78" y="20.9" width="1.6" height="2.7" fill="#c0c0e8"/>
<text transform="translate(501.83,23.6) rotate(-90)" font-size="2.2" textLength="6.1" lengthAdjust="spacingAndGlyphs" fill="#5a5ab6" font-family="Liberation Sans, Arial, sans-serif">38.70</text>
<rect x="503.76" y="17.5" width="1.6" height="2.7" fill="#c0c0e8"/><rect x="503.76" y="20.9" width="1.6" height="2.7" fill="#c0c0e8"/>
<text transform="translate(504.81,23.6) rotate(-90)" font-size="2.2" textLength="6.1" lengthAdjust="spacingAndGlyphs" fill="#5a5ab6" font-family="Liberation Sans, Arial, sans-serif">37.40</text>
<rect x="506.74" y="17.5" width="1.6" height="2.7" fill="#c0c0e8"/><rect x="506.74" y="20.9" width="1.6" height="2.7" fill="#c0c0e8"/>
<text transform="translate(507.79,23.6) rotate(-90)" font-size="2.2" textLength="6.1" lengthAdjust="spacingAndGlyphs" fill="#5a5ab6" font-family="Liberation Sans, Arial, sans-serif">36.10</text>
<rect x="509.72" y="17.5" width="1.6" height="2.7" fill="#c0c0e8"/><rect x="509.72" y="20.9" width="1.6" height="2.7" fill="#c0c0e8"/>
<text transform="translate(510.77,23.6) rotate(-90)" font-size="2.2" textLength="6.1" lengthAdjust="spacingAndGlyphs" fill="#5a5ab6" font-family="Liberation Sans, Arial, sans-serif">34.80</text>
<rect x="512.7" y="17.5" width="1.6" height="2.7" fill="#c0c0e8"/><rect x="512.7" y="20.9" width="1.6" height="2.7" fill="#c0c0e8"/>
<text transform="translate(513.75,23.6) rotate(-90)" font-size="2.2" textLength="6.1" lengthAdjust="spacingAndGlyphs" fill="#5a5ab6" font-family="Liberation Sans, Arial, sans-serif">33.50</text>
<rect x="515.68" y="17.5" width="1.6" height="2.7" fill="#c0c0e8"/><rect x="515.68" y="20.9" width="1.6" height="2.7" fill="#c0c0e8"/>
<text transform="translate(516.73,23.6) rotate(-90)" font-size="2.2" textLength="6.1" lengthAdjust="spacingAndGlyphs" fill="#5a5ab6" font-family="Liberation Sans, Arial, sans-serif">32.20</text>
<rect x="518.66" y="17.5" width="1.6" height="2.7" fill="#c0c0e8"/><rect x="518.66" y="20.9" width="1.6" height="2.7" fill="#c0c0e8"/>
<text transform="translate(519.71,23.6) rotate(-90)" font-size="2.2" textLength="6.1" lengthAdjust="spacingAndGlyphs" fill="#5a5ab6" font-family="Liberation Sans, Arial, sans-serif">30.90</text>
<rect x="521.64" y="17.5" width="1.6" height="2.7" fill="#c0c0e8"/><rect x="521.64" y="20.9" width="1.6" height="2.7" fill="#c0c0e8"/>
<text transform="translate(522.69,23.6) rotate(-90)" font-size="2.2" textLength="6.1" lengthAdjust="spacingAndGlyphs" fill="#5a5ab6" font-family="Liberation Sans, Arial, sans-serif">29.60</text>
<rect x="524.62" y="17.5" width="1.6" height="2.7" fill="#c0c0e8"/><rect x="524.62" y="20.9" width="1.6" height="2.7" fill="#c0c0e8"/>
<text transform="translate(525.67,23.6) rotate(-90)" font-size="2.2" textLength="6.1" lengthAdjust="spacingAndGlyphs" fill="#5a5ab6" font-family="Liberation Sans, Arial, sans-serif">28.30</text>
<rect x="527.6" y="17.5" width="1.6" height="2.7" fill="#c0c0e8"/><rect x="527.6" y="20.9" width="1.6" height="2.7" fill="#c0c0e8"/>
<text transform="translate(528.65,23.6) rotate(-90)" font-size="2.2" textLength="6.1" lengthAdjust="spacingAndGlyphs" fill="#5a5ab6" font-family="Liberation Sans, Arial, sans-serif">27.00</text>
<rect x="530.58" y="17.5" width="1.6" height="2.7" fill="#c0c0e8"/><rect x="530.58" y="20.9" width="1.6" height="2.7" fill="#c0c0e8"/>
<text transform="translate(531.63,23.6) rotate(-90)" font-size="2.2" textLength="6.1" lengthAdjust="spacingAndGlyphs" fill="#5a5ab6" font-family="Liberation Sans, Arial, sans-serif">25.70</text>
<rect x="533.56" y="17.5" width="1.6" height="2.7" fill="#c0c0e8"/><rect x="533.56" y="20.9" width="1.6" height="2.7" fill="#c0c0e8"/>
<text transform="translate(534.61,23.6) rotate(-90)" font-size="2.2" textLength="6.1" lengthAdjust="spacingAndGlyphs" fill="#5a5ab6" font-family="Liberation Sans, Arial, sans-serif">24.40</text>
<rect x="536.54" y="17.5" width="1.6" height="2.7" fill="#c0c0e8"/><rect x="536.54" y="20.9" width="1.6" height="2.7" fill="#c0c0e8"/>
<text transform="translate(537.59,23.6) rotate(-90)" font-size="2.2" textLength="6.1" lengthAdjust="spacingAndGlyphs" fill="#5a5ab6" font-family="Liberation Sans, Arial, sans-serif">23.10</text>
<path d="M497.9,24.2 L497.9,25.4 L499.4,28.0" stroke="#5a5ab8" stroke-width="0.5" fill="none"/>
<path d="M500.88,24.2 L500.88,25.4 L499.4,28.0" stroke="#5a5ab8" stroke-width="0.5" fill="none"/>
<path d="M503.86,24.2 L503.86,25.4 L505.3,28.0" stroke="#5a5ab8" stroke-width="0.5" fill="none"/>
<path d="M506.84,24.2 L506.84,25.4 L505.3,28.0" stroke="#5a5ab8" stroke-width="0.5" fill="none"/>
<path d="M509.82,24.2 L509.82,25.4 L511.2,28.0" stroke="#5a5ab8" stroke-width="0.5" fill="none"/>
<path d="M512.8,24.2 L512.8,25.4 L511.2,28.0" stroke="#5a5ab8" stroke-width="0.5" fill="none"/>
<path d="M515.78,24.2 L515.78,25.4 L517.1,28.0" stroke="#5a5ab8" stroke-width="0.5" fill="none"/>
<path d="M518.76,24.2 L518.76,25.4 L517.1,28.0" stroke="#5a5ab8" stroke-width="0.5" fill="none"/>
<path d="M521.74,24.2 L521.74,25.4 L523,28.0" stroke="#5a5ab8" stroke-width="0.5" fill="none"/>
<path d="M524.72,24.2 L524.72,25.4 L523,28.0" stroke="#5a5ab8" stroke-width="0.5" fill="none"/>
<path d="M527.7,24.2 L527.7,25.4 L528.9,28.0" stroke="#5a5ab8" stroke-width="0.5" fill="none"/>
<path d="M530.68,24.2 L530.68,25.4 L528.9,28.0" stroke="#5a5ab8" stroke-width="0.5" fill="none"/>
<path d="M533.66,24.2 L533.66,25.4 L534.8,28.0" stroke="#5a5ab8" stroke-width="0.5" fill="none"/>
<path d="M536.64,24.2 L536.64,25.4 L534.8,28.0" stroke="#5a5ab8" stroke-width="0.5" fill="none"/>
<circle cx="517.1" cy="27.9" r="0.55" fill="#3a3aa8"/>
<circle cx="523" cy="27.9" r="0.55" fill="#3a3aa8"/>
<circle cx="528.9" cy="27.9" r="0.55" fill="#3a3aa8"/>
<circle cx="499.4" cy="27.9" r="0.55" fill="#3a3aa8"/>
<circle cx="534.8" cy="27.9" r="0.55" fill="#3a3aa8"/>
<circle cx="505.3" cy="27.9" r="0.55" fill="#3a3aa8"/>
<circle cx="511.2" cy="27.9" r="0.55" fill="#3a3aa8"/>
<path d="M498,28 C503,29.6 508,28.4 512,29.4 C516,29.8 520,28.6 524,29.4 C528,29.8 532,28.8 536,28" stroke="#3a3aa8" stroke-width="0.6" fill="none"/>
<polyline points="51.2,264.2 59.76,264.18 61.28,264.08 61.52,263.89 61.68,263.26 62,260.3 62.4,263.5 62.64,264.03 63.12,264.14 64.24,264.18 68.4,264.09 68.64,263.93 68.72,263.68 68.88,262.31 68.96,261.98 69.04,262.2 69.12,261.97 69.2,261.24 69.28,261.13 69.36,261.53 69.52,260.33 69.68,261.37 69.76,261.34 69.84,260.9 70,261.55 70.16,260.49 70.32,261.1 70.48,259.89 70.56,260.55 70.64,260.58 70.8,259.11 70.88,259.28 71.04,258.38 71.12,259.24 71.28,259.65 71.44,261.37 71.6,261.09 71.76,262.47 71.92,262.66 72.08,263.69 72.24,264.01 72.64,264.09 73.28,264.08 73.6,263.93 73.92,261.58 74.08,261.81 74.24,260.63 74.32,261.11 74.4,261.04 74.56,259.95 74.72,261.39 74.8,261.03 75.04,262.09 75.12,261.81 75.28,262.33 75.44,261.66 75.6,262.16 75.76,261.28 75.84,261.5 76,261.35 76.16,262.56 76.32,262.63 76.56,263.92 76.72,264.08 77.36,264.16 87.92,264.15 88.4,263.67 88.8,262.88 88.88,262.93 89.04,262.61 89.12,262.6 89.28,262.03 89.36,262.09 89.52,261.63 89.68,262.29 89.92,262.73 90,262.69 90.32,263.14 90.48,263.59 90.8,263.8 91.04,264.11 91.52,264.18 161.04,264.15 161.6,264.05 161.84,263.76 162.08,258.3 162.24,260.85 162.4,256 162.56,261.03 162.72,259 162.88,263.15 162.96,263.77 163.04,263.92 163.28,264.04 163.76,263.95 163.92,263.54 164.08,259.81 164.16,259.14 164.24,260.89 164.32,260.12 164.4,256.68 164.48,257.03 164.56,260.32 164.64,260.37 164.72,258.28 164.96,263.56 165.12,263.98 165.6,264.13 173.12,264.15 174.08,264.06 174.64,263.81 175.04,263.42 175.28,262.77 175.68,257.54 175.76,257.47 176.08,262.13 176.24,263.07 176.4,263.4 176.72,263.74 177.12,263.98 177.6,264.1 181.2,264.18 183.52,264.1 183.68,263.82 183.84,263.08 184.08,263.54 184.24,262.7 184.48,263.54 184.64,263 184.88,263.51 185.04,262.73 185.12,262.69 185.28,263.19 185.52,261.51 185.68,262.84 185.92,261.22 186.08,262.73 186.32,261.04 186.48,262.72 186.56,262.64 186.72,261.44 186.88,262.76 187.12,260.97 187.28,262.59 187.36,262.6 187.52,261.09 187.68,262.62 187.76,262.76 187.92,261.4 188.16,263.1 188.32,262.26 188.56,263.26 188.72,262.31 188.96,263.38 189.12,262.7 189.36,263.49 189.52,262.84 189.6,262.88 189.76,263.58 189.92,263.09 190,263.09 190.24,264.02 190.48,264.11 190.88,264.08 191.12,263.87 191.36,263.91 191.52,263.53 191.76,263.66 192.16,260.87 192.24,260.69 192.4,260.85 192.48,260.79 192.64,259.9 192.72,259.95 192.96,261.49 193.12,261.2 193.2,261.52 193.44,263.55 193.52,263.77 193.92,264.06 194.64,264.14 195.04,264.01 195.28,264.09 195.52,263.86 195.76,264.06 196,263.63 196.24,264.03 196.56,263.72 196.8,264.06 197.04,263.84 197.28,263.98 197.52,263.48 197.68,263.71 197.92,263.01 198.08,263.51 198.32,262.43 198.48,263.32 198.72,262.3 198.88,263.36 198.96,263.47 199.12,262.98 199.36,263.76 199.52,263.53 199.68,263.83 199.76,263.85 199.92,263.57 200.16,263.81 200.4,262.98 200.56,263.64 200.64,263.6 200.8,262.72 201.04,263.64 201.28,262.86 201.52,263.77 201.68,263.41 201.76,263.41 201.92,263.81 202.08,263.53 202.32,262.02 202.4,261.94 202.56,262.76 202.72,261.75 202.88,262.42 203.12,260.67 203.28,262.21 203.44,261.18 203.6,262.06 203.84,260.13 204,261.65 204.16,260.01 204.32,261.46 204.56,259.72 204.64,260.17 204.72,260 204.88,257.97 205.04,260.48 205.12,260.86 205.2,260.42 205.28,260.61 205.44,261.78 205.6,260.2 205.76,261.98 205.84,262 205.92,261.37 206,261.4 206.16,262.47 206.32,261.51 206.48,262.5 206.64,261.48 206.72,261.5 206.88,262.39 207.04,261.18 207.2,262.34 207.28,262.42 207.36,262.19 207.52,262.36 207.68,261.55 207.92,262.63 208.08,261.62 208.24,262.68 208.32,262.74 208.48,261.72 208.72,263.66 208.88,263.71 209.2,264.09 210.72,264.16 212.08,264.1 212.24,263.96 212.48,262.79 212.64,263.36 212.72,263.35 212.88,262.78 213.04,263.42 213.2,262.98 213.28,262.95 213.36,263.25 213.44,263.28 213.6,262.3 213.84,263.32 214,262.9 214.16,263.34 214.4,262.44 214.56,263.06 214.72,261.97 214.96,263.13 215.12,262.58 215.28,263.14 215.52,262.02 215.68,262.91 215.84,261.88 216.08,263.01 216.24,262.33 216.4,262.98 216.64,261.83 216.8,262.73 216.96,261.46 217.04,261.44 217.2,262.62 217.36,261.53 217.52,262.44 217.6,262.37 217.76,260.93 217.92,261.66 218.16,258.01 218.24,258.1 218.72,262.68 218.88,262.05 219.04,262.85 219.28,261.78 219.44,262.72 219.6,261.5 219.84,262.77 220,261.9 220.16,262.81 220.24,262.76 220.4,261.89 220.56,262.97 220.72,262.43 220.8,262.44 220.96,263.05 221.12,262.16 221.36,263.63 221.52,263.86 221.84,263.84 222.32,263.59 222.64,263.09 222.88,261.88 222.96,260.61 223.12,252.38 223.36,220.05 223.44,219.5 223.84,259.23 224,262.17 224.32,263.31 224.64,263.67 225.04,263.84 225.68,263.9 225.92,263.75 226.16,262.58 226.32,263.04 226.4,262.78 226.56,260.9 226.72,262.14 226.8,262.14 226.96,259.56 227.2,262.36 227.36,261.26 227.6,262.91 227.76,262.33 227.84,262.38 228.08,263.54 228.32,263.48 228.48,263.21 228.8,261.07 228.88,259.4 229.2,243.56 229.28,243.89 229.52,255.5 229.6,255.72 229.68,253.88 229.92,243.68 230.24,254.8 230.32,255.16 230.4,254.24 230.64,245.45 231.04,257.42 231.2,253.19 231.44,225.88 231.52,219.5 231.6,219.5 231.84,248.23 232,256.88 232.08,256.47 232.32,247.42 232.4,247.16 232.72,260.65 232.88,262.68 233.04,263.2 233.28,263.49 233.68,263.68 234.16,263.68 234.56,263.49 234.8,263.18 234.96,262.76 235.12,261.6 235.36,250.05 235.6,221.25 235.68,222.76 236,257.82 236.16,261.93 236.4,263.14 236.64,263.54 237.04,263.83 238.4,264.08 251.84,264.19" fill="#18188e" fill-opacity="0.45" stroke="#18188e" stroke-width="0.7" stroke-linejoin="round"/>
<polyline points="46.79,268.6 46.67,275.4 46.43,276.2 46.17,276.44 45.78,276.6 44.53,276.76 41.99,276.84 22.18,277 20.4,277.08 20.4,277.16 24.9,277.24 42.66,277.4 44.72,277.48 45.76,277.64 46.2,277.88 46.35,278.36 46.14,278.76 45.53,279 42.28,279.16 32.46,279.32 31.79,279.4 39.72,279.56 39.78,279.64 21.34,279.8 20.4,279.88 20.4,280.04 40.76,280.28 31.05,280.52 30.82,280.6 38.58,280.76 38.36,280.84 29.65,281 29.14,281.08 39.32,281.32 28.43,281.56 43.25,281.8 45.85,282.04 46.19,282.2 46.24,282.28 46.15,282.36 45.07,282.52 45.57,282.68 44.27,282.84 45.15,282.92 42.59,283.08 45.1,283.24 44.03,283.4 45.38,283.48 45.73,283.56 45.34,283.64 46.49,283.88 46.48,284.44 46.17,284.84 45.5,285.08 43.25,285.24 20.4,285.48 20.4,285.64 43.84,285.88 45.1,285.96 45.89,286.12 46.3,286.36 46.49,286.68 46.46,286.92 45.06,287.16 45.72,287.24 45.14,287.4 45.64,287.48 45.5,287.56 44.73,287.64 45.59,287.8 44.89,287.88 45.51,288.04 44.44,288.2 45.38,288.28 44.61,288.44 45.37,288.52 45.51,288.6 44.89,288.68 45.29,288.84 41.17,289.16 44.19,289.32 44.37,289.4 43.91,289.48 45.17,289.64 44.4,289.72 45.32,289.88 44.36,289.96 45.47,290.12 44.81,290.28 45.63,290.36 45.14,290.52 45.66,290.6 44.65,290.76 45.62,290.92 44.94,291 45.84,291.16 45.43,291.32 45.84,291.4 44.77,291.56 45.55,291.64 45.71,291.72 45.19,291.8 46.03,291.96 45.7,292.04 45.99,292.2 45.2,292.36 45.92,292.44 45.65,292.6 46.04,292.68 45.99,292.76 45.53,292.84 46.06,293 45.6,293.08 46.66,293.32 46.73,293.48 46.7,295.4 46.3,295.72 44.59,295.88 45.49,296.04 44.64,296.12 45.41,296.28 44.44,296.44 45.06,296.52 45.17,296.76 44.33,296.84 44.42,296.92 45.22,297 44.43,297.16 45.27,297.24 44.49,297.4 45.23,297.48 44.19,297.64 44.92,297.72 43.24,297.88 44.4,297.96 44.4,298.04 43.36,298.12 43.8,298.2 41.27,298.36 43.25,298.52 42.77,298.6 44.33,298.76 43.17,298.84 44.5,299 43.29,299.08 44.86,299.24 44.34,299.32 44.36,299.4 45.01,299.48 43.78,299.64 45.06,299.72 44.69,299.88 45.45,299.96 44.73,300.12 46.41,300.36 46.4,300.44 46.11,300.52 46.41,300.68 45.66,300.84 46.29,301 45.46,301.16 46.32,301.32 45.69,301.48 46.47,301.64 46.24,301.8 46.48,301.96 46.25,302.04 46.41,302.2 45.71,302.36 46.06,302.44 46.04,302.52 45.28,302.6 45.33,302.68 46,302.76 45.2,302.92 46.18,303.08 45.82,303.16 45.85,303.24 46.31,303.32 46.16,303.48 46.62,303.64 46.48,303.8 46.67,303.96 46.38,304.12 46.63,304.36 46.3,304.52 46.67,304.68 46.49,304.84 46.7,305 46.64,305.24 46.74,305.56 46.67,305.96 46.45,306.2 46.21,306.28 44.45,306.44 44.12,306.52 44.38,306.6 42.99,306.84 43.63,306.92 43.8,307 43.7,307.08 43.8,307.16 46.15,307.4 46.33,307.48 46.17,307.56 46.54,307.72 46.5,307.88 46.69,308.04 46.71,308.36 46.58,308.52 45.74,308.68 46.22,308.84 45.64,309 46.13,309.08 45.42,309.24 46.03,309.4 45.21,309.56 45.91,309.64 45.06,309.8 45.75,309.96 44.46,310.12 45.47,310.2 45.17,310.28 44.05,310.36 45.46,310.52 44.09,310.68 45.33,310.76 45.31,310.84 44.35,310.92 45.53,311.08 44.08,311.24 45.29,311.32 45.23,311.4 44.12,311.48 45.59,311.64 44.42,311.8 45.89,311.96 45.41,312.04 46.19,312.2 45.72,312.36 46.15,312.44 45.46,312.6 46.24,312.76 45.81,312.92 46.72,313.16 46.78,315.08 46.71,317.24 46.6,317.56 46.35,317.88 45.64,318.2 40.68,318.52 45.56,318.84 46.1,319 46.49,319.32 46.69,319.72 46.76,320.44 46.73,325.56 46.57,325.88 46.31,325.96 41.39,326.12 43.62,326.2 40.25,326.36 43.95,326.44 42.32,326.52 46.12,326.68 46.53,326.76 46.66,327.08 46.51,327.32 45.98,327.4 42.6,327.56 43.78,327.64 39.82,327.72 43.37,327.88 41.52,327.96 46.37,328.12 46.66,328.28 46.76,328.68 46.78,376.76 46.72,377.08 46.21,377.48 44.97,378.04 44.49,378.12 44.87,378.2 44.85,378.28 45.22,378.36 45.74,378.68 46.04,378.76 46.75,379.24 46.76,386.52 46.71,386.92 46.57,387.08 44.24,387.48 44.44,387.56 44.19,387.64 44.82,387.72 44.6,387.88 45.12,387.96 44.74,388.04 44.84,388.12 43.92,388.28 44.29,388.36 43.1,388.52 44.12,388.6 43.64,388.68 44.71,388.84 44.5,388.92 46.39,389.08 46.66,389.24 46.71,389.8 46.56,390.12 46.23,390.2 43.98,390.52 44.26,390.6 41.53,390.92 42.35,391 42.24,391.08 43.33,391.16 43.45,391.24 43.02,391.32 44.04,391.4 43.63,391.48 44.4,391.64 43.84,391.72 44.32,391.8 43.42,391.96 44.39,392.04 44.04,392.12 45.02,392.28 44.83,392.36 46.42,392.52 46.68,392.68 46.78,395.16 46.76,396.28 46.66,396.68 46.36,396.84 43.35,397.16 46.17,397.4 46.51,397.48 46.69,397.64 46.78,398.6 46.8,403.56" fill="none" stroke="#18188e" stroke-width="0.7" stroke-linejoin="round"/>
<line x1="253.3" y1="269.2" x2="253.3" y2="405.2" stroke="#555" stroke-width="0.45"/>
<line x1="253.3" y1="272.5" x2="254.2" y2="272.5" stroke="#555" stroke-width="0.45"/>
<text x="255.9" y="273.6" font-size="3.5" fill="#444" font-family="Liberation Serif, Times New Roman, serif">0.5</text>
<line x1="253.3" y1="285.29" x2="254.2" y2="285.29" stroke="#555" stroke-width="0.45"/>
<text x="255.9" y="286.39" font-size="3.5" fill="#444" font-family="Liberation Serif, Times New Roman, serif">1.0</text>
<line x1="253.3" y1="298.08" x2="254.2" y2="298.08" stroke="#555" stroke-width="0.45"/>
<text x="255.9" y="299.18" font-size="3.5" fill="#444" font-family="Liberation Serif, Times New Roman, serif">1.5</text>
<line x1="253.3" y1="310.87" x2="254.2" y2="310.87" stroke="#555" stroke-width="0.45"/>
<text x="255.9" y="311.97" font-size="3.5" fill="#444" font-family="Liberation Serif, Times New Roman, serif">2.0</text>
<line x1="253.3" y1="323.66" x2="254.2" y2="323.66" stroke="#555" stroke-width="0.45"/>
<text x="255.9" y="324.76" font-size="3.5" fill="#444" font-family="Liberation Serif, Times New Roman, serif">2.5</text>
<line x1="253.3" y1="336.45" x2="254.2" y2="336.45" stroke="#555" stroke-width="0.45"/>
<text x="255.9" y="337.55" font-size="3.5" fill="#444" font-family="Liberation Serif, Times New Roman, serif">3.0</text>
<line x1="253.3" y1="349.24" x2="254.2" y2="349.24" stroke="#555" stroke-width="0.45"/>
<text x="255.9" y="350.34" font-size="3.5" fill="#444" font-family="Liberation Serif, Times New Roman, serif">3.5</text>
<line x1="253.3" y1="362.03" x2="254.2" y2="362.03" stroke="#555" stroke-width="0.45"/>
<text x="255.9" y="363.13" font-size="3.5" fill="#444" font-family="Liberation Serif, Times New Roman, serif">4.0</text>
<line x1="253.3" y1="374.82" x2="254.2" y2="374.82" stroke="#555" stroke-width="0.45"/>
<text x="255.9" y="375.92" font-size="3.5" fill="#444" font-family="Liberation Serif, Times New Roman, serif">4.5</text>
<line x1="253.3" y1="387.61" x2="254.2" y2="387.61" stroke="#555" stroke-width="0.45"/>
<text x="255.9" y="388.71" font-size="3.5" fill="#444" font-family="Liberation Serif, Times New Roman, serif">5.0</text>
<line x1="253.3" y1="400.4" x2="254.2" y2="400.4" stroke="#555" stroke-width="0.45"/>
<text x="255.9" y="401.5" font-size="3.5" fill="#444" font-family="Liberation Serif, Times New Roman, serif">5.5</text>
<line x1="253.3" y1="278.89" x2="254" y2="278.89" stroke="#555" stroke-width="0.4"/>
<line x1="253.3" y1="291.69" x2="254" y2="291.69" stroke="#555" stroke-width="0.4"/>
<line x1="253.3" y1="304.48" x2="254" y2="304.48" stroke="#555" stroke-width="0.4"/>
<line x1="253.3" y1="317.26" x2="254" y2="317.26" stroke="#555" stroke-width="0.4"/>
<line x1="253.3" y1="330.06" x2="254" y2="330.06" stroke="#555" stroke-width="0.4"/>
<line x1="253.3" y1="342.85" x2="254" y2="342.85" stroke="#555" stroke-width="0.4"/>
<line x1="253.3" y1="355.63" x2="254" y2="355.63" stroke="#555" stroke-width="0.4"/>
<line x1="253.3" y1="368.43" x2="254" y2="368.43" stroke="#555" stroke-width="0.4"/>
<line x1="253.3" y1="381.21" x2="254" y2="381.21" stroke="#555" stroke-width="0.4"/>
<line x1="253.3" y1="394" x2="254" y2="394" stroke="#555" stroke-width="0.4"/>
<line x1="51" y1="405.2" x2="253.3" y2="405.2" stroke="#555" stroke-width="0.45"/>
<line x1="57.3" y1="404.3" x2="57.3" y2="406.1" stroke="#555" stroke-width="0.45"/>
<text x="57.3" y="410.3" font-size="3.5" text-anchor="middle" fill="#444" font-family="Liberation Serif, Times New Roman, serif">5.5</text>
<line x1="75.8" y1="404.3" x2="75.8" y2="406.1" stroke="#555" stroke-width="0.45"/>
<text x="75.8" y="410.3" font-size="3.5" text-anchor="middle" fill="#444" font-family="Liberation Serif, Times New Roman, serif">5.0</text>
<line x1="94.3" y1="404.3" x2="94.3" y2="406.1" stroke="#555" stroke-width="0.45"/>
<text x="94.3" y="410.3" font-size="3.5" text-anchor="middle" fill="#444" font-family="Liberation Serif, Times New Roman, serif">4.5</text>
<line x1="112.8" y1="404.3" x2="112.8" y2="406.1" stroke="#555" stroke-width="0.45"/>
<text x="112.8" y="410.3" font-size="3.5" text-anchor="middle" fill="#444" font-family="Liberation Serif, Times New Roman, serif">4.0</text>
<line x1="131.3" y1="404.3" x2="131.3" y2="406.1" stroke="#555" stroke-width="0.45"/>
<text x="131.3" y="410.3" font-size="3.5" text-anchor="middle" fill="#444" font-family="Liberation Serif, Times New Roman, serif">3.5</text>
<line x1="149.8" y1="404.3" x2="149.8" y2="406.1" stroke="#555" stroke-width="0.45"/>
<text x="149.8" y="410.3" font-size="3.5" text-anchor="middle" fill="#444" font-family="Liberation Serif, Times New Roman, serif">3.0</text>
<line x1="168.3" y1="404.3" x2="168.3" y2="406.1" stroke="#555" stroke-width="0.45"/>
<text x="168.3" y="410.3" font-size="3.5" text-anchor="middle" fill="#444" font-family="Liberation Serif, Times New Roman, serif">2.5</text>
<line x1="186.8" y1="404.3" x2="186.8" y2="406.1" stroke="#555" stroke-width="0.45"/>
<text x="186.8" y="410.3" font-size="3.5" text-anchor="middle" fill="#444" font-family="Liberation Serif, Times New Roman, serif">2.0</text>
<line x1="205.3" y1="404.3" x2="205.3" y2="406.1" stroke="#555" stroke-width="0.45"/>
<text x="205.3" y="410.3" font-size="3.5" text-anchor="middle" fill="#444" font-family="Liberation Serif, Times New Roman, serif">1.5</text>
<line x1="223.8" y1="404.3" x2="223.8" y2="406.1" stroke="#555" stroke-width="0.45"/>
<text x="223.8" y="410.3" font-size="3.5" text-anchor="middle" fill="#444" font-family="Liberation Serif, Times New Roman, serif">1.0</text>
<line x1="242.3" y1="404.3" x2="242.3" y2="406.1" stroke="#555" stroke-width="0.45"/>
<text x="242.3" y="410.3" font-size="3.5" text-anchor="middle" fill="#444" font-family="Liberation Serif, Times New Roman, serif">0.5</text>
<line x1="66.55" y1="404.6" x2="66.55" y2="405.8" stroke="#555" stroke-width="0.4"/>
<line x1="85.05" y1="404.6" x2="85.05" y2="405.8" stroke="#555" stroke-width="0.4"/>
<line x1="103.55" y1="404.6" x2="103.55" y2="405.8" stroke="#555" stroke-width="0.4"/>
<line x1="122.05" y1="404.6" x2="122.05" y2="405.8" stroke="#555" stroke-width="0.4"/>
<line x1="140.55" y1="404.6" x2="140.55" y2="405.8" stroke="#555" stroke-width="0.4"/>
<line x1="159.05" y1="404.6" x2="159.05" y2="405.8" stroke="#555" stroke-width="0.4"/>
<line x1="177.55" y1="404.6" x2="177.55" y2="405.8" stroke="#555" stroke-width="0.4"/>
<line x1="196.05" y1="404.6" x2="196.05" y2="405.8" stroke="#555" stroke-width="0.4"/>
<line x1="214.55" y1="404.6" x2="214.55" y2="405.8" stroke="#555" stroke-width="0.4"/>
<line x1="233.05" y1="404.6" x2="233.05" y2="405.8" stroke="#555" stroke-width="0.4"/>
<text x="153.6" y="413.6" font-size="2.8" text-anchor="middle" fill="#555" font-family="Liberation Sans, Arial, sans-serif">f2 (ppm)</text>
<text transform="translate(267.2,334) rotate(-90)" font-size="2.8" text-anchor="middle" fill="#555" font-family="Liberation Sans, Arial, sans-serif">f1 (ppm)</text>
<polygon points="203.54,277.88 220.96,274.74 230.09,270.93 237.52,270.15 246.67,275.97 239.1,283.38 237.1,292.37 233.35,299.37 229.78,306.43 224.46,311.71 213.87,311.35 207.02,307.53 200.11,309.64 189.11,312.76 183.56,312.05 181.92,306.63 186.68,302.07 185.79,295.82 184.88,290.23 184.77,283.47 189.36,281.9 201.83,278.6" fill="#bdbdbd" stroke="none"/>
<ellipse cx="200.43" cy="289.39" rx="2.94" ry="2.46" fill="#8c8c8c" stroke="#383838" stroke-width="0.55"/>
<ellipse cx="200.43" cy="289.39" rx="2" ry="1.63" fill="none" stroke="#555" stroke-width="0.45"/>
<ellipse cx="200.43" cy="289.39" rx="1.03" ry="0.86" fill="#5a5a5a" stroke="#333" stroke-width="0.35"/>
<ellipse cx="216.82" cy="295.77" rx="3.36" ry="2.54" fill="#8c8c8c" stroke="#383838" stroke-width="0.55"/>
<ellipse cx="216.82" cy="295.77" rx="2.28" ry="1.67" fill="none" stroke="#555" stroke-width="0.45"/>
<ellipse cx="216.35" cy="295.77" rx="1.07" ry="0.81" fill="#ececec" stroke="#666" stroke-width="0.35"/>
<ellipse cx="192.96" cy="306.28" rx="3.39" ry="2.13" fill="#8c8c8c" stroke="#383838" stroke-width="0.55"/>
<ellipse cx="192.96" cy="306.28" rx="2.3" ry="1.41" fill="none" stroke="#555" stroke-width="0.45"/>
<ellipse cx="192.96" cy="306.28" rx="1.18" ry="0.75" fill="#5a5a5a" stroke="#333" stroke-width="0.35"/>
<ellipse cx="222.93" cy="284.86" rx="2.88" ry="2.65" fill="#9a9a9a" stroke="#383838" stroke-width="0.55"/>
<ellipse cx="222.93" cy="284.86" rx="1.96" ry="1.75" fill="none" stroke="#555" stroke-width="0.45"/>
<ellipse cx="222.93" cy="284.86" rx="1.01" ry="0.93" fill="#5a5a5a" stroke="#333" stroke-width="0.35"/>
<ellipse cx="243.53" cy="278.82" rx="2.96" ry="2.23" fill="#8c8c8c" stroke="#383838" stroke-width="0.55"/>
<ellipse cx="243.53" cy="278.82" rx="2.02" ry="1.47" fill="none" stroke="#555" stroke-width="0.45"/>
<ellipse cx="243.17" cy="278.82" rx="0.95" ry="0.71" fill="#ececec" stroke="#666" stroke-width="0.35"/>
<ellipse cx="194.88" cy="279.62" rx="2.64" ry="2.54" fill="#b4b4b4" stroke="#383838" stroke-width="0.55"/>
<ellipse cx="194.88" cy="279.62" rx="1.8" ry="1.68" fill="none" stroke="#555" stroke-width="0.45"/>
<ellipse cx="194.92" cy="279.62" rx="0.85" ry="0.81" fill="#ececec" stroke="#666" stroke-width="0.35"/>
<ellipse cx="188.48" cy="300.97" rx="3.18" ry="2.36" fill="#9a9a9a" stroke="#383838" stroke-width="0.55"/>
<ellipse cx="188.48" cy="300.97" rx="2.16" ry="1.56" fill="none" stroke="#555" stroke-width="0.45"/>
<ellipse cx="188.48" cy="300.97" rx="1.11" ry="0.83" fill="#5a5a5a" stroke="#333" stroke-width="0.35"/>
<ellipse cx="207.94" cy="290.35" rx="2.78" ry="2.43" fill="#a8a8a8" stroke="#383838" stroke-width="0.55"/>
<ellipse cx="207.94" cy="290.35" rx="1.89" ry="1.61" fill="none" stroke="#555" stroke-width="0.45"/>
<ellipse cx="207.94" cy="290.35" rx="0.97" ry="0.85" fill="#5a5a5a" stroke="#333" stroke-width="0.35"/>
<ellipse cx="201.04" cy="279.25" rx="3.28" ry="2.47" fill="#9a9a9a" stroke="#383838" stroke-width="0.55"/>
<ellipse cx="201.04" cy="279.25" rx="2.23" ry="1.63" fill="none" stroke="#555" stroke-width="0.45"/>
<ellipse cx="200.81" cy="279.25" rx="1.05" ry="0.79" fill="#ececec" stroke="#666" stroke-width="0.35"/>
<ellipse cx="227.96" cy="306.41" rx="2.91" ry="2.59" fill="#c0c0c0" stroke="#383838" stroke-width="0.55"/>
<ellipse cx="227.96" cy="306.41" rx="1.98" ry="1.71" fill="none" stroke="#555" stroke-width="0.45"/>
<ellipse cx="227.96" cy="306.41" rx="1.02" ry="0.91" fill="#5a5a5a" stroke="#333" stroke-width="0.35"/>
<ellipse cx="206.35" cy="301" rx="3.5" ry="2.21" fill="#a8a8a8" stroke="#383838" stroke-width="0.55"/>
<ellipse cx="206.35" cy="301" rx="2.38" ry="1.46" fill="none" stroke="#555" stroke-width="0.45"/>
<ellipse cx="206.78" cy="301" rx="1.12" ry="0.71" fill="#ececec" stroke="#666" stroke-width="0.35"/>
<ellipse cx="198.38" cy="306.15" rx="3.25" ry="2.19" fill="#b4b4b4" stroke="#383838" stroke-width="0.55"/>
<ellipse cx="198.38" cy="306.15" rx="2.21" ry="1.45" fill="none" stroke="#555" stroke-width="0.45"/>
<ellipse cx="198.77" cy="306.15" rx="1.04" ry="0.7" fill="#ececec" stroke="#666" stroke-width="0.35"/>
<ellipse cx="215.17" cy="284.1" rx="2.61" ry="2.49" fill="#c0c0c0" stroke="#383838" stroke-width="0.55"/>
<ellipse cx="215.17" cy="284.1" rx="1.77" ry="1.64" fill="none" stroke="#555" stroke-width="0.45"/>
<ellipse cx="231.83" cy="300.07" rx="3.45" ry="2.42" fill="#a8a8a8" stroke="#383838" stroke-width="0.55"/>
<ellipse cx="231.83" cy="300.07" rx="2.35" ry="1.6" fill="none" stroke="#555" stroke-width="0.45"/>
<ellipse cx="232.2" cy="300.07" rx="1.1" ry="0.78" fill="#ececec" stroke="#666" stroke-width="0.35"/>
<ellipse cx="239.31" cy="272.83" rx="3.32" ry="2.75" fill="#9a9a9a" stroke="#383838" stroke-width="0.55"/>
<ellipse cx="239.31" cy="272.83" rx="2.26" ry="1.81" fill="none" stroke="#555" stroke-width="0.45"/>
<ellipse cx="239.71" cy="272.83" rx="1.06" ry="0.88" fill="#ececec" stroke="#666" stroke-width="0.35"/>
<ellipse cx="221.5" cy="294.64" rx="3.48" ry="2.78" fill="#c0c0c0" stroke="#383838" stroke-width="0.55"/>
<ellipse cx="221.5" cy="294.64" rx="2.37" ry="1.84" fill="none" stroke="#555" stroke-width="0.45"/>
<ellipse cx="218.42" cy="289.61" rx="3.44" ry="2.28" fill="#9a9a9a" stroke="#383838" stroke-width="0.55"/>
<ellipse cx="218.42" cy="289.61" rx="2.34" ry="1.51" fill="none" stroke="#555" stroke-width="0.45"/>
<ellipse cx="218" cy="289.61" rx="1.1" ry="0.73" fill="#ececec" stroke="#666" stroke-width="0.35"/>
<ellipse cx="219.25" cy="310.99" rx="3" ry="2.49" fill="#8c8c8c" stroke="#383838" stroke-width="0.55"/>
<ellipse cx="219.25" cy="310.99" rx="2.04" ry="1.64" fill="none" stroke="#555" stroke-width="0.45"/>
<ellipse cx="218.78" cy="310.99" rx="0.96" ry="0.8" fill="#ececec" stroke="#666" stroke-width="0.35"/>
<ellipse cx="212.61" cy="290.49" rx="3.33" ry="2.14" fill="#9a9a9a" stroke="#383838" stroke-width="0.55"/>
<ellipse cx="212.61" cy="290.49" rx="2.26" ry="1.42" fill="none" stroke="#555" stroke-width="0.45"/>
<ellipse cx="212.44" cy="290.49" rx="1.07" ry="0.69" fill="#ececec" stroke="#666" stroke-width="0.35"/>
<ellipse cx="188.26" cy="290.06" rx="3.31" ry="2.2" fill="#a8a8a8" stroke="#383838" stroke-width="0.55"/>
<ellipse cx="188.26" cy="290.06" rx="2.25" ry="1.45" fill="none" stroke="#555" stroke-width="0.45"/>
<ellipse cx="203.28" cy="305.16" rx="3.41" ry="2.46" fill="#b4b4b4" stroke="#383838" stroke-width="0.55"/>
<ellipse cx="203.28" cy="305.16" rx="2.32" ry="1.63" fill="none" stroke="#555" stroke-width="0.45"/>
<ellipse cx="192.82" cy="284.35" rx="3.04" ry="2.76" fill="#9a9a9a" stroke="#383838" stroke-width="0.55"/>
<ellipse cx="192.82" cy="284.35" rx="2.07" ry="1.82" fill="none" stroke="#555" stroke-width="0.45"/>
<ellipse cx="233.2" cy="283.61" rx="3" ry="2.49" fill="#c0c0c0" stroke="#383838" stroke-width="0.55"/>
<ellipse cx="233.2" cy="283.61" rx="2.04" ry="1.64" fill="none" stroke="#555" stroke-width="0.45"/>
<ellipse cx="233.2" cy="283.61" rx="1.05" ry="0.87" fill="#5a5a5a" stroke="#333" stroke-width="0.35"/>
<ellipse cx="212.91" cy="278.6" rx="3.07" ry="2.69" fill="#c0c0c0" stroke="#383838" stroke-width="0.55"/>
<ellipse cx="212.91" cy="278.6" rx="2.09" ry="1.78" fill="none" stroke="#555" stroke-width="0.45"/>
<ellipse cx="213.09" cy="278.6" rx="0.98" ry="0.86" fill="#ececec" stroke="#666" stroke-width="0.35"/>
<ellipse cx="225.68" cy="279.37" rx="3.46" ry="2.71" fill="#c0c0c0" stroke="#383838" stroke-width="0.55"/>
<ellipse cx="225.68" cy="279.37" rx="2.35" ry="1.79" fill="none" stroke="#555" stroke-width="0.45"/>
<ellipse cx="226.03" cy="279.37" rx="1.11" ry="0.87" fill="#ececec" stroke="#666" stroke-width="0.35"/>
<ellipse cx="221.04" cy="306.25" rx="3.47" ry="2.47" fill="#c0c0c0" stroke="#383838" stroke-width="0.55"/>
<ellipse cx="221.04" cy="306.25" rx="2.36" ry="1.63" fill="none" stroke="#555" stroke-width="0.45"/>
<ellipse cx="220.95" cy="306.25" rx="1.11" ry="0.79" fill="#ececec" stroke="#666" stroke-width="0.35"/>
<ellipse cx="209.37" cy="294.58" rx="2.7" ry="2.1" fill="#b4b4b4" stroke="#383838" stroke-width="0.55"/>
<ellipse cx="209.37" cy="294.58" rx="1.84" ry="1.39" fill="none" stroke="#555" stroke-width="0.45"/>
<ellipse cx="209.84" cy="294.58" rx="0.86" ry="0.67" fill="#ececec" stroke="#666" stroke-width="0.35"/>
<ellipse cx="194.7" cy="311.53" rx="3.06" ry="2.38" fill="#c0c0c0" stroke="#383838" stroke-width="0.55"/>
<ellipse cx="194.7" cy="311.53" rx="2.08" ry="1.57" fill="none" stroke="#555" stroke-width="0.45"/>
<ellipse cx="194.3" cy="311.53" rx="0.98" ry="0.76" fill="#ececec" stroke="#666" stroke-width="0.35"/>
<ellipse cx="219.12" cy="301.23" rx="2.75" ry="2.75" fill="#b4b4b4" stroke="#383838" stroke-width="0.55"/>
<ellipse cx="219.12" cy="301.23" rx="1.87" ry="1.82" fill="none" stroke="#555" stroke-width="0.45"/>
<ellipse cx="219.58" cy="301.23" rx="0.88" ry="0.88" fill="#ececec" stroke="#666" stroke-width="0.35"/>
<ellipse cx="194.51" cy="301.18" rx="3.43" ry="2.29" fill="#b4b4b4" stroke="#383838" stroke-width="0.55"/>
<ellipse cx="194.51" cy="301.18" rx="2.33" ry="1.51" fill="none" stroke="#555" stroke-width="0.45"/>
<ellipse cx="194.35" cy="301.18" rx="1.1" ry="0.73" fill="#ececec" stroke="#666" stroke-width="0.35"/>
<ellipse cx="203.15" cy="284.63" rx="3.41" ry="2.75" fill="#b4b4b4" stroke="#383838" stroke-width="0.55"/>
<ellipse cx="203.15" cy="284.63" rx="2.32" ry="1.82" fill="none" stroke="#555" stroke-width="0.45"/>
<ellipse cx="203.15" cy="284.63" rx="1.19" ry="0.96" fill="#5a5a5a" stroke="#333" stroke-width="0.35"/>
<ellipse cx="225.17" cy="311.4" rx="2.7" ry="2.39" fill="#9a9a9a" stroke="#383838" stroke-width="0.55"/>
<ellipse cx="225.17" cy="311.4" rx="1.83" ry="1.58" fill="none" stroke="#555" stroke-width="0.45"/>
<ellipse cx="240.59" cy="283.82" rx="2.72" ry="2.65" fill="#9a9a9a" stroke="#383838" stroke-width="0.55"/>
<ellipse cx="240.59" cy="283.82" rx="1.85" ry="1.75" fill="none" stroke="#555" stroke-width="0.45"/>
<ellipse cx="240.25" cy="283.82" rx="0.87" ry="0.85" fill="#ececec" stroke="#666" stroke-width="0.35"/>
<ellipse cx="236.58" cy="278.23" rx="2.61" ry="2.3" fill="#8c8c8c" stroke="#383838" stroke-width="0.55"/>
<ellipse cx="236.58" cy="278.23" rx="1.78" ry="1.52" fill="none" stroke="#555" stroke-width="0.45"/>
<ellipse cx="236.58" cy="278.23" rx="0.84" ry="0.74" fill="#ececec" stroke="#666" stroke-width="0.35"/>
<ellipse cx="183.47" cy="311.57" rx="3.05" ry="2.51" fill="#c0c0c0" stroke="#383838" stroke-width="0.55"/>
<ellipse cx="183.47" cy="311.57" rx="2.07" ry="1.65" fill="none" stroke="#555" stroke-width="0.45"/>
<ellipse cx="183.47" cy="311.57" rx="1.07" ry="0.88" fill="#5a5a5a" stroke="#333" stroke-width="0.35"/>
<ellipse cx="185" cy="283.88" rx="3.25" ry="2.59" fill="#b4b4b4" stroke="#383838" stroke-width="0.55"/>
<ellipse cx="185" cy="283.88" rx="2.21" ry="1.71" fill="none" stroke="#555" stroke-width="0.45"/>
<ellipse cx="185.13" cy="283.88" rx="1.04" ry="0.83" fill="#ececec" stroke="#666" stroke-width="0.35"/>
<ellipse cx="230.63" cy="278.51" rx="3.34" ry="2.53" fill="#c0c0c0" stroke="#383838" stroke-width="0.55"/>
<ellipse cx="230.63" cy="278.51" rx="2.27" ry="1.67" fill="none" stroke="#555" stroke-width="0.45"/>
<ellipse cx="230.76" cy="278.51" rx="1.07" ry="0.81" fill="#ececec" stroke="#666" stroke-width="0.35"/>
<ellipse cx="209.04" cy="306.74" rx="3.17" ry="2.47" fill="#c0c0c0" stroke="#383838" stroke-width="0.55"/>
<ellipse cx="209.04" cy="306.74" rx="2.16" ry="1.63" fill="none" stroke="#555" stroke-width="0.45"/>
<ellipse cx="209.04" cy="306.74" rx="1.11" ry="0.86" fill="#5a5a5a" stroke="#333" stroke-width="0.35"/>
<ellipse cx="194.23" cy="289.66" rx="3.37" ry="2.26" fill="#8c8c8c" stroke="#383838" stroke-width="0.55"/>
<ellipse cx="194.23" cy="289.66" rx="2.29" ry="1.49" fill="none" stroke="#555" stroke-width="0.45"/>
<ellipse cx="228.96" cy="274.54" rx="2.88" ry="2.32" fill="#a8a8a8" stroke="#383838" stroke-width="0.55"/>
<ellipse cx="228.96" cy="274.54" rx="1.96" ry="1.53" fill="none" stroke="#555" stroke-width="0.45"/>
<ellipse cx="229.46" cy="274.54" rx="0.92" ry="0.74" fill="#ececec" stroke="#666" stroke-width="0.35"/>
<ellipse cx="210.56" cy="283.99" rx="3.4" ry="2.19" fill="#a8a8a8" stroke="#383838" stroke-width="0.55"/>
<ellipse cx="210.56" cy="283.99" rx="2.31" ry="1.45" fill="none" stroke="#555" stroke-width="0.45"/>
<ellipse cx="210.15" cy="283.99" rx="1.09" ry="0.7" fill="#ececec" stroke="#666" stroke-width="0.35"/>
<ellipse cx="225.23" cy="300.2" rx="2.95" ry="2.4" fill="#b4b4b4" stroke="#383838" stroke-width="0.55"/>
<ellipse cx="225.23" cy="300.2" rx="2.01" ry="1.59" fill="none" stroke="#555" stroke-width="0.45"/>
<ellipse cx="225.23" cy="300.2" rx="1.03" ry="0.84" fill="#5a5a5a" stroke="#333" stroke-width="0.35"/>
<ellipse cx="201.19" cy="300.23" rx="3.23" ry="2.24" fill="#9a9a9a" stroke="#383838" stroke-width="0.55"/>
<ellipse cx="201.19" cy="300.23" rx="2.2" ry="1.48" fill="none" stroke="#555" stroke-width="0.45"/>
<ellipse cx="201.26" cy="300.23" rx="1.03" ry="0.72" fill="#ececec" stroke="#666" stroke-width="0.35"/>
<ellipse cx="233.39" cy="296.01" rx="2.92" ry="2.67" fill="#8c8c8c" stroke="#383838" stroke-width="0.55"/>
<ellipse cx="233.39" cy="296.01" rx="1.99" ry="1.77" fill="none" stroke="#555" stroke-width="0.45"/>
<ellipse cx="233.4" cy="296.01" rx="0.93" ry="0.86" fill="#ececec" stroke="#666" stroke-width="0.35"/>
<ellipse cx="185.49" cy="295.38" rx="3.28" ry="2.45" fill="#a8a8a8" stroke="#383838" stroke-width="0.55"/>
<ellipse cx="185.49" cy="295.38" rx="2.23" ry="1.62" fill="none" stroke="#555" stroke-width="0.45"/>
<ellipse cx="220" cy="279.89" rx="3.03" ry="2.12" fill="#c0c0c0" stroke="#383838" stroke-width="0.55"/>
<ellipse cx="220" cy="279.89" rx="2.06" ry="1.4" fill="none" stroke="#555" stroke-width="0.45"/>
<ellipse cx="220" cy="279.89" rx="1.06" ry="0.74" fill="#5a5a5a" stroke="#333" stroke-width="0.35"/>
<ellipse cx="212.14" cy="300.11" rx="3.41" ry="2.44" fill="#a8a8a8" stroke="#383838" stroke-width="0.55"/>
<ellipse cx="212.14" cy="300.11" rx="2.32" ry="1.61" fill="none" stroke="#555" stroke-width="0.45"/>
<ellipse cx="211.84" cy="300.11" rx="1.09" ry="0.78" fill="#ececec" stroke="#666" stroke-width="0.35"/>
<ellipse cx="198.96" cy="284.22" rx="3.36" ry="2.79" fill="#9a9a9a" stroke="#383838" stroke-width="0.55"/>
<ellipse cx="198.96" cy="284.22" rx="2.28" ry="1.84" fill="none" stroke="#555" stroke-width="0.45"/>
<ellipse cx="198.96" cy="284.22" rx="1.17" ry="0.98" fill="#5a5a5a" stroke="#333" stroke-width="0.35"/>
<ellipse cx="213.73" cy="311.33" rx="2.72" ry="2.58" fill="#9a9a9a" stroke="#383838" stroke-width="0.55"/>
<ellipse cx="213.73" cy="311.33" rx="1.85" ry="1.7" fill="none" stroke="#555" stroke-width="0.45"/>
<ellipse cx="236.43" cy="289.36" rx="2.89" ry="2.43" fill="#c0c0c0" stroke="#383838" stroke-width="0.55"/>
<ellipse cx="236.43" cy="289.36" rx="1.97" ry="1.6" fill="none" stroke="#555" stroke-width="0.45"/>
<ellipse cx="236.14" cy="289.36" rx="0.93" ry="0.78" fill="#ececec" stroke="#666" stroke-width="0.35"/>
<ellipse cx="189.59" cy="311.95" rx="2.94" ry="2.54" fill="#9a9a9a" stroke="#383838" stroke-width="0.55"/>
<ellipse cx="189.59" cy="311.95" rx="2" ry="1.68" fill="none" stroke="#555" stroke-width="0.45"/>
<ellipse cx="228.48" cy="295.99" rx="2.76" ry="2.42" fill="#8c8c8c" stroke="#383838" stroke-width="0.55"/>
<ellipse cx="228.48" cy="295.99" rx="1.88" ry="1.6" fill="none" stroke="#555" stroke-width="0.45"/>
<ellipse cx="228.17" cy="295.99" rx="0.88" ry="0.77" fill="#ececec" stroke="#666" stroke-width="0.35"/>
<ellipse cx="227.24" cy="283.94" rx="2.75" ry="2.46" fill="#9a9a9a" stroke="#383838" stroke-width="0.55"/>
<ellipse cx="227.24" cy="283.94" rx="1.87" ry="1.62" fill="none" stroke="#555" stroke-width="0.45"/>
<ellipse cx="226.82" cy="283.94" rx="0.88" ry="0.79" fill="#ececec" stroke="#666" stroke-width="0.35"/>
<ellipse cx="234.31" cy="273.91" rx="3.36" ry="2.71" fill="#b4b4b4" stroke="#383838" stroke-width="0.55"/>
<ellipse cx="234.31" cy="273.91" rx="2.28" ry="1.79" fill="none" stroke="#555" stroke-width="0.45"/>
<ellipse cx="234.31" cy="273.91" rx="1.18" ry="0.95" fill="#5a5a5a" stroke="#333" stroke-width="0.35"/>
<ellipse cx="191.74" cy="295.12" rx="2.77" ry="2.51" fill="#8c8c8c" stroke="#383838" stroke-width="0.55"/>
<ellipse cx="191.74" cy="295.12" rx="1.88" ry="1.66" fill="none" stroke="#555" stroke-width="0.45"/>
<ellipse cx="185.72" cy="306.7" rx="2.83" ry="2.74" fill="#a8a8a8" stroke="#383838" stroke-width="0.55"/>
<ellipse cx="185.72" cy="306.7" rx="1.93" ry="1.81" fill="none" stroke="#555" stroke-width="0.45"/>
<ellipse cx="198.92" cy="295.17" rx="2.97" ry="2.73" fill="#c0c0c0" stroke="#383838" stroke-width="0.55"/>
<ellipse cx="198.92" cy="295.17" rx="2.02" ry="1.8" fill="none" stroke="#555" stroke-width="0.45"/>
<ellipse cx="198.92" cy="295.17" rx="1.04" ry="0.95" fill="#5a5a5a" stroke="#333" stroke-width="0.35"/>
<ellipse cx="207" cy="279.29" rx="3.29" ry="2.64" fill="#b4b4b4" stroke="#383838" stroke-width="0.55"/>
<ellipse cx="207" cy="279.29" rx="2.24" ry="1.74" fill="none" stroke="#555" stroke-width="0.45"/>
<ellipse cx="206.68" cy="279.29" rx="1.05" ry="0.84" fill="#ececec" stroke="#666" stroke-width="0.35"/>
<ellipse cx="204.15" cy="295.86" rx="3.32" ry="2.31" fill="#9a9a9a" stroke="#383838" stroke-width="0.55"/>
<ellipse cx="204.15" cy="295.86" rx="2.26" ry="1.53" fill="none" stroke="#555" stroke-width="0.45"/>
<ellipse cx="204" cy="295.86" rx="1.06" ry="0.74" fill="#ececec" stroke="#666" stroke-width="0.35"/>
<ellipse cx="216.4" cy="306.83" rx="3.17" ry="2.54" fill="#a8a8a8" stroke="#383838" stroke-width="0.55"/>
<ellipse cx="216.4" cy="306.83" rx="2.16" ry="1.67" fill="none" stroke="#555" stroke-width="0.45"/>
<ellipse cx="216.86" cy="306.83" rx="1.02" ry="0.81" fill="#ececec" stroke="#666" stroke-width="0.35"/>
<ellipse cx="230.2" cy="290.68" rx="2.87" ry="2.25" fill="#b4b4b4" stroke="#383838" stroke-width="0.55"/>
<ellipse cx="230.2" cy="290.68" rx="1.95" ry="1.49" fill="none" stroke="#555" stroke-width="0.45"/>
<ellipse cx="230.2" cy="290.68" rx="1" ry="0.79" fill="#5a5a5a" stroke="#333" stroke-width="0.35"/>
<ellipse cx="225.71" cy="290.06" rx="3.08" ry="2.37" fill="#b4b4b4" stroke="#383838" stroke-width="0.55"/>
<ellipse cx="225.71" cy="290.06" rx="2.09" ry="1.57" fill="none" stroke="#555" stroke-width="0.45"/>
<ellipse cx="225.71" cy="290.06" rx="1.08" ry="0.83" fill="#5a5a5a" stroke="#333" stroke-width="0.35"/>
<path d="M229,272 L236,268.5 L243,268 L249,274 L246,280 L240,281 M233,270 L236,276 M238,269 L240,276 M242,270 L244,278" stroke="#888" stroke-width="0.45" fill="#cfcfcf" fill-opacity="0.5"/>
<ellipse cx="230.9" cy="279.6" rx="2.08" ry="1.6" fill="#333"/>
<ellipse cx="235.9" cy="276.3" rx="1.82" ry="1.4" fill="#333"/>
<ellipse cx="223.8" cy="285" rx="1.69" ry="1.3" fill="#333"/>
<ellipse cx="241.7" cy="272.5" rx="1.3" ry="1" fill="#333"/>
<ellipse cx="216" cy="290" rx="1.56" ry="1.2" fill="#333"/>
<ellipse cx="208" cy="296" rx="1.3" ry="1" fill="#333"/>
<polygon points="154.6,325 157.5,320.8 162.8,319.6 168.2,320.8 171.8,325.2 170.2,330.2 165,333 158.2,332.6 154.4,329.2" fill="#a2a2a2" stroke="#666" stroke-width="0.5" stroke-linejoin="round"/>
<polygon points="157,325.5 159.5,322.2 163.2,321.5 167.5,322.8 169.6,326 168,329.6 163.5,331.2 159,330.5 157,328.5" fill="#8e8e8e" stroke="#555" stroke-width="0.45" stroke-linejoin="round"/>
<ellipse cx="163.3" cy="326.4" rx="3.4" ry="2.8" fill="#5a5a5a" stroke="#333" stroke-width="0.4"/>
<ellipse cx="163.3" cy="326.4" rx="1.7" ry="1.4" fill="#2a2a2a"/>
<circle cx="158.5" cy="323.5" r="0.8" fill="#cfcfcf" stroke="#666" stroke-width="0.3"/>
<circle cx="159" cy="330" r="0.8" fill="#cfcfcf" stroke="#666" stroke-width="0.3"/>
<circle cx="167.5" cy="323" r="0.8" fill="#cfcfcf" stroke="#666" stroke-width="0.3"/>
<circle cx="168" cy="329.6" r="0.8" fill="#cfcfcf" stroke="#666" stroke-width="0.3"/>
<circle cx="157" cy="327" r="0.8" fill="#cfcfcf" stroke="#666" stroke-width="0.3"/>
<polygon points="162.2,318 171.5,316 175.4,311.2 179.2,316 185.6,318 179.2,319.8 175.4,327.6 171.5,319.8" fill="#aaaaaa" stroke="#666" stroke-width="0.45" stroke-linejoin="round"/>
<ellipse cx="175.4" cy="317.9" rx="3.2" ry="2.6" fill="#8a8a8a" stroke="#555" stroke-width="0.4"/>
<ellipse cx="175.4" cy="317.9" rx="1.6" ry="1.3" fill="#2a2a2a"/>
<ellipse cx="189" cy="308.6" rx="8.2" ry="3.6" transform="rotate(-33 189 308.6)" fill="#8a8a8a" stroke="#444" stroke-width="0.5"/>
<ellipse cx="191" cy="307.4" rx="2" ry="1.6" fill="#3a3a3a"/><circle cx="186.3" cy="310.8" r="0.8" fill="#ddd"/><circle cx="188.8" cy="309.6" r="0.6" fill="#ddd"/>
<ellipse cx="186.5" cy="318" rx="1.3" ry="0.9" fill="#aaa" stroke="#444" stroke-width="0.45"/>
<ellipse cx="189.5" cy="318" rx="1.3" ry="0.9" fill="#aaa" stroke="#444" stroke-width="0.45"/>
<ellipse cx="192.5" cy="318" rx="1.3" ry="0.9" fill="#aaa" stroke="#444" stroke-width="0.45"/>
<ellipse cx="195" cy="318" rx="1" ry="0.8" fill="#aaa" stroke="#444" stroke-width="0.45"/>
<ellipse cx="205" cy="318.2" rx="1.4" ry="0.9" fill="#aaa" stroke="#444" stroke-width="0.45"/>
<ellipse cx="207" cy="318.2" rx="0.8" ry="0.7" fill="#aaa" stroke="#444" stroke-width="0.45"/>
<rect x="174.8" y="296.8" width="2.4" height="2.4" fill="#999" stroke="#555" stroke-width="0.4"/>
<ellipse cx="176" cy="306.5" rx="1.2" ry="1.6" fill="#ccc" stroke="#666" stroke-width="0.4"/>
<rect x="61.75" y="296.85" width="1.8" height="2.5" rx="0.74" fill="#777" stroke="#404040" stroke-width="0.5"/>
<rect x="73.7" y="296.6" width="4.6" height="2.8" rx="1.15" fill="#7a7a7a" stroke="#404040" stroke-width="0.8"/>
<ellipse cx="76.6" cy="297.9" rx="1.2" ry="0.8" fill="#e4e4e4"/>
<rect x="69.8" y="297.6" width="1.4" height="1" rx="0.45" fill="#bbb" stroke="#404040" stroke-width="0.4"/>
<rect x="87.45" y="297.45" width="5.3" height="4.1" rx="1.6" fill="#909090" stroke="#404040" stroke-width="0.9"/>
<ellipse cx="90.2" cy="299.4" rx="1.5" ry="1.1" fill="#e4e4e4"/>
<rect x="88.2" y="305" width="4.2" height="2.2" rx="0.96" fill="#8a8a8a" stroke="#404040" stroke-width="0.8"/>
<ellipse cx="90.6" cy="306.1" rx="1" ry="0.6" fill="#e4e4e4"/>
<rect x="61.45" y="307.25" width="3.1" height="3.1" rx="1.22" fill="#606060" stroke="#404040" stroke-width="0.7"/>
<rect x="68.4" y="308.8" width="4.9" height="3.4" rx="1.34" fill="#8a8a8a" stroke="#404040" stroke-width="0.8"/>
<ellipse cx="69.9" cy="310.6" rx="0.9" ry="0.9" fill="#e4e4e4"/>
<ellipse cx="72" cy="310.6" rx="0.8" ry="0.9" fill="#e4e4e4"/>
<circle cx="76.2" cy="310.5" r="0.55" fill="#777"/><circle cx="90.1" cy="313.8" r="0.45" fill="#999"/>
<rect x="61.4" y="316.7" width="2.8" height="2.1" rx="0.86" fill="#505050" stroke="#404040" stroke-width="0.6"/>
<rect x="86.7" y="316.1" width="7.6" height="3.4" rx="1.34" fill="#555" stroke="#404040" stroke-width="0.8"/>
<ellipse cx="89.2" cy="317.8" rx="1.1" ry="0.9" fill="#e4e4e4"/>
<ellipse cx="91.8" cy="317.8" rx="1.1" ry="0.9" fill="#e4e4e4"/>
<circle cx="135.8" cy="345.8" r="0.8" fill="#444"/><circle cx="124.9" cy="353.2" r="0.6" fill="#555"/>
<ellipse cx="90.1" cy="376.5" rx="5" ry="3.2" fill="#9a9a9a" stroke="#555" stroke-width="0.5"/>
<ellipse cx="90.1" cy="376.5" rx="3.33" ry="2.13" fill="#777" stroke="#555" stroke-width="0.5"/>
<ellipse cx="90.1" cy="376.5" rx="1.67" ry="1.07" fill="#bbb" stroke="#555" stroke-width="0.5"/>
<ellipse cx="73.4" cy="388.2" rx="7.2" ry="5.0" fill="#8a8a8a" stroke="#555" stroke-width="0.5"/>
<ellipse cx="70.3" cy="385.9" rx="2.3" ry="1.9" fill="#666" stroke="#333" stroke-width="0.4"/>
<ellipse cx="70.3" cy="385.9" rx="0.9" ry="0.8" fill="#e5e5e5"/>
<ellipse cx="76.5" cy="385.9" rx="2.3" ry="1.9" fill="#666" stroke="#333" stroke-width="0.4"/>
<ellipse cx="76.5" cy="385.9" rx="0.9" ry="0.8" fill="#e5e5e5"/>
<ellipse cx="70.3" cy="390.5" rx="2.3" ry="1.9" fill="#666" stroke="#333" stroke-width="0.4"/>
<ellipse cx="70.3" cy="390.5" rx="0.9" ry="0.8" fill="#e5e5e5"/>
<ellipse cx="76.5" cy="390.5" rx="2.3" ry="1.9" fill="#666" stroke="#333" stroke-width="0.4"/>
<ellipse cx="76.5" cy="390.5" rx="0.9" ry="0.8" fill="#e5e5e5"/>
<path d="M55.2,395.5 Q62.4,395.5 62.4,389.7 Q62.4,395.5 69.6,395.5 Q62.4,395.5 62.4,401.3 Q62.4,395.5 55.2,395.5 Z" fill="#8c8c8c" stroke="#555" stroke-width="0.45"/>
<ellipse cx="62.4" cy="395.5" rx="2.88" ry="2.4" fill="#777" stroke="#555" stroke-width="0.45"/>
<ellipse cx="62.4" cy="395.5" rx="1.44" ry="1.2" fill="#222"/>
<circle cx="55.7" cy="400.8" r="0.7" fill="#555"/><circle cx="63.4" cy="386.8" r="0.5" fill="#888"/><circle cx="75.8" cy="395.5" r="0.5" fill="#888"/>
<circle cx="176" cy="377.1" r="2.6" fill="#555" stroke="#3a3a3a" stroke-width="0.5"/>
<circle cx="182.2" cy="376.9" r="0.5" fill="#999"/>
<rect x="191.7" y="375.4" width="3.1" height="3.2" rx="1.25" fill="#8a8a8a" stroke="#404040" stroke-width="0.8"/>
<ellipse cx="193.3" cy="377" rx="0.8" ry="0.8" fill="#e4e4e4"/>
<rect x="200" y="375.4" width="6.3" height="3.2" rx="1.28" fill="#8a8a8a" stroke="#404040" stroke-width="0.8"/>
<ellipse cx="203.1" cy="377" rx="1.8" ry="0.8" fill="#e4e4e4"/>
<rect x="183.35" y="387.95" width="6.4" height="3.9" rx="1.47" fill="#888" stroke="#404040" stroke-width="0.7"/>
<ellipse cx="186" cy="389.9" rx="1.2" ry="0.8" fill="#e4e4e4"/>
<path d="M185.6,387.8 L186.2,385.6 L187.4,385.6 L187.8,387.8" fill="#aaa" stroke="#555" stroke-width="0.4"/>
<rect x="203" y="385.5" width="4.5" height="2.7" rx="1.12" fill="#8a8a8a" stroke="#404040" stroke-width="0.8"/>
<ellipse cx="205.2" cy="386.8" rx="1" ry="0.6" fill="#e4e4e4"/>
<circle cx="204.9" cy="390.3" r="0.6" fill="#666"/>
<rect x="174.45" y="395.15" width="3.6" height="1.5" rx="0.6" fill="#6a6a6a" stroke="#404040" stroke-width="0.5"/>
<rect x="186.25" y="395.15" width="5.4" height="1.5" rx="0.6" fill="#6a6a6a" stroke="#404040" stroke-width="0.5"/>
<rect x="203.05" y="395.15" width="4" height="1.5" rx="0.6" fill="#6a6a6a" stroke="#404040" stroke-width="0.5"/>
<polyline points="323.9,263 332.78,262.98 334.3,262.86 334.46,262.74 334.62,262.22 334.94,258.98 335.02,259 335.34,262.25 335.58,262.82 336.06,262.94 337.1,262.98 340.06,262.97 341.1,262.88 341.34,262.7 341.58,260.84 341.66,260.72 341.74,260.91 341.9,259.69 342.06,260.13 342.22,258.9 342.38,260.1 342.46,259.61 342.62,260.21 342.78,259.11 342.94,259.75 343.1,258.48 343.18,259.21 343.26,259.08 343.34,257.94 343.42,257.7 343.5,257.74 343.58,256.95 343.9,258.63 343.98,259.78 344.06,259.98 344.14,259.63 344.3,261.07 344.46,261.29 344.62,262.41 344.78,262.79 345.18,262.89 345.9,262.85 346.14,262.59 346.38,260.3 346.54,260.53 346.7,259.24 346.78,259.74 346.86,259.64 346.94,258.61 347.02,258.63 347.18,259.99 347.26,259.61 347.42,260.77 347.58,260.49 347.74,260.96 347.82,260.44 347.9,260.44 347.98,260.85 348.14,259.97 348.3,260.19 348.38,259.99 348.54,261.25 348.7,261.35 348.94,262.73 349.1,262.88 349.66,262.96 359.82,262.94 360.3,262.41 360.62,261.66 360.78,261.63 361.02,261.21 361.1,260.81 361.26,260.73 361.34,260.35 361.74,261.45 361.9,261.5 362.3,262.37 362.86,262.93 363.26,262.97 429.98,262.95 430.62,262.78 430.78,262.38 431.02,256.82 431.1,259.12 431.18,258.61 431.26,254.94 431.42,259.3 431.5,259.07 431.58,257.41 431.82,262.52 431.98,262.77 432.3,262.84 432.62,262.72 432.78,261.93 432.94,257.47 433.1,259.54 433.26,254.58 433.34,258.13 433.42,259.33 433.5,257.09 433.58,257.63 433.74,262.28 433.9,262.76 434.3,262.92 441.58,262.95 442.46,262.86 443.02,262.6 443.5,262.03 443.66,261.42 444.06,255.81 444.54,261.7 444.7,262.13 445.02,262.51 445.42,262.77 445.9,262.9 448.78,262.98 451.5,262.91 451.66,262.75 451.9,261.8 452.06,262.35 452.3,261.43 452.46,262.3 452.62,261.77 452.7,261.76 452.86,262.28 453.02,261.41 453.18,261.9 453.26,261.85 453.42,260.13 453.66,261.51 453.82,259.81 453.98,261.29 454.06,261.35 454.22,259.63 454.38,261.36 454.46,261.42 454.62,260.09 454.78,261.49 455.02,259.64 455.18,261.41 455.42,259.83 455.58,261.54 455.74,260.25 455.82,260.22 455.98,261.82 456.14,261.02 456.38,262.02 456.54,261.02 456.78,262.13 456.94,261.38 457.18,262.23 457.34,261.5 457.5,262.26 457.58,262.32 457.74,261.76 457.98,262.78 458.14,262.89 458.62,262.88 458.86,262.65 459.02,262.73 459.26,262.25 459.42,262.45 459.5,262.31 459.82,259.64 459.9,259.31 460.06,259.47 460.14,259.43 460.3,258.49 460.38,258.53 460.62,260.15 460.78,259.86 461.1,262.44 461.58,262.88 462.3,262.93 462.54,262.79 462.78,262.9 463.02,262.65 463.26,262.85 463.5,262.43 463.58,262.43 463.74,262.8 463.82,262.82 464.06,262.49 464.22,262.81 464.3,262.85 464.54,262.63 464.7,262.79 464.94,262.27 465.1,262.47 465.18,262.42 465.34,261.72 465.5,262.26 465.74,261.12 465.9,262.06 466.14,261.01 466.3,262.16 466.38,262.2 466.54,261.75 466.7,262.49 466.78,262.51 466.94,262.33 467.1,262.65 467.26,262.37 467.34,262.38 467.5,262.62 467.74,261.7 467.9,262.41 467.98,262.36 468.14,261.42 468.38,262.42 468.54,261.7 468.62,261.66 468.78,262.5 468.86,262.51 469.02,262.12 469.26,262.58 469.66,260.59 469.82,261.48 469.98,260.41 470.14,261.12 470.3,259.29 470.54,260.83 470.7,259.89 470.78,260.58 470.86,260.61 471.02,258.56 471.18,260.32 471.34,258.67 471.5,260.05 471.58,259.92 471.74,258.28 471.82,258.77 471.9,258.5 472.06,256.49 472.22,259.32 472.3,259.38 472.38,258.94 472.54,260.46 472.7,259.01 472.78,259.08 472.94,260.81 473.1,259.92 473.26,261.19 473.42,260.18 473.58,261.21 473.74,260.1 473.9,260.99 473.98,261.02 474.14,259.87 474.3,261.14 474.46,260.85 474.54,261.03 474.62,260.93 474.78,260.24 474.94,261.36 475.1,260.34 475.34,261.5 475.5,260.39 475.74,262.45 475.9,262.49 476.22,262.9 478.06,262.95 479.02,262.86 479.18,262.48 479.34,261.51 479.5,262.13 479.74,261.55 479.9,262.2 480.06,261.64 480.22,262.08 480.46,261.04 480.62,262.07 480.78,261.63 480.94,262.09 481.18,261.14 481.34,261.79 481.5,260.61 481.74,261.84 481.9,261.33 482.06,261.85 482.22,260.69 482.38,261.59 482.46,261.47 482.62,260.52 482.78,261.74 482.94,261.05 483.1,261.72 483.34,260.53 483.5,261.43 483.66,259.97 483.82,261.19 483.9,261.22 484.06,260.21 484.22,261.22 484.38,259.63 484.54,260.35 484.78,256.55 484.86,256.54 485.34,261.38 485.5,260.77 485.66,261.6 485.82,260.45 485.98,261.36 486.06,261.27 486.22,260.1 486.38,261.48 486.54,260.61 486.7,261.5 486.78,261.51 486.94,260.57 487.1,261.73 487.26,261.07 487.42,261.74 487.5,261.7 487.66,260.88 487.9,262.53 488.06,262.65 488.3,262.63 488.86,262.26 489.18,261.51 489.34,260.26 489.42,258.47 489.82,218.4 489.9,218.4 490.22,256.97 490.38,260.75 490.54,261.66 490.86,262.3 491.18,262.54 491.58,262.67 492.06,262.68 492.22,262.56 492.46,261.3 492.62,261.78 492.7,261.45 492.86,259.49 493.02,260.95 493.26,258.02 493.5,261.01 493.66,259.86 493.82,261.54 493.9,261.6 494.06,261.01 494.3,262.3 494.54,262.24 494.7,261.93 495.02,259.33 495.42,240.91 495.74,254.3 496.06,241.66 496.14,242.21 496.38,253.12 496.46,253.48 496.54,252.3 496.78,243.42 497.02,252.75 497.18,255.83 497.34,248.49 497.58,218.4 497.66,218.4 497.74,219.84 497.9,244.6 498.06,255.17 498.14,254.96 498.38,245.2 498.46,245.28 498.7,257.4 498.94,261.56 499.1,262.01 499.34,262.29 499.66,262.44 500.06,262.47 500.38,262.36 500.62,262.15 500.94,261.33 501.1,259.56 501.18,256.86 501.5,219.29 501.58,218.4 501.9,255.98 502.06,260.62 502.22,261.67 502.38,262.09 502.7,262.49 503.1,262.69 504.94,262.91 526.14,263" fill="#18188e" fill-opacity="0.45" stroke="#18188e" stroke-width="0.7" stroke-linejoin="round"/>
<line x1="319.4" y1="267.2" x2="319.4" y2="402.2" stroke="#1f1f95" stroke-width="0.9"/>
<line x1="319.4" y1="273.5" x2="299.6" y2="273.5" stroke="#3c3ca8" stroke-width="0.85"/>
<line x1="319.4" y1="280.5" x2="299.6" y2="280.5" stroke="#3c3ca8" stroke-width="0.85"/>
<line x1="319.4" y1="281.5" x2="299.6" y2="281.5" stroke="#3c3ca8" stroke-width="0.85"/>
<line x1="319.4" y1="285.5" x2="299.6" y2="285.5" stroke="#3c3ca8" stroke-width="0.85"/>
<line x1="319.4" y1="287.5" x2="299.6" y2="287.5" stroke="#3c3ca8" stroke-width="0.85"/>
<line x1="319.4" y1="289.5" x2="299.6" y2="289.5" stroke="#3c3ca8" stroke-width="0.85"/>
<line x1="319.4" y1="292.5" x2="299.6" y2="292.5" stroke="#3c3ca8" stroke-width="0.85"/>
<line x1="319.4" y1="298.5" x2="299.6" y2="298.5" stroke="#3c3ca8" stroke-width="0.85"/>
<line x1="319.4" y1="300.5" x2="299.6" y2="300.5" stroke="#3c3ca8" stroke-width="0.85"/>
<line x1="319.4" y1="302.5" x2="299.6" y2="302.5" stroke="#3c3ca8" stroke-width="0.85"/>
<line x1="319.4" y1="311.5" x2="296.7" y2="311.5" stroke="#3c3ca8" stroke-width="0.85"/>
<line x1="319.4" y1="316.5" x2="297.7" y2="316.5" stroke="#3c3ca8" stroke-width="0.85"/>
<line x1="319.4" y1="334.5" x2="298.5" y2="334.5" stroke="#3c3ca8" stroke-width="0.85"/>
<line x1="319.4" y1="381.5" x2="298" y2="381.5" stroke="#3c3ca8" stroke-width="0.85"/>
<line x1="319.4" y1="387.5" x2="298" y2="387.5" stroke="#3c3ca8" stroke-width="0.85"/>
<line x1="319.4" y1="396.5" x2="297.6" y2="396.5" stroke="#3c3ca8" stroke-width="0.85"/>
<line x1="319.4" y1="397.5" x2="304.9" y2="397.5" stroke="#3c3ca8" stroke-width="0.85"/>
<line x1="319.4" y1="337.2" x2="275.3" y2="337.2" stroke="#1f1f95" stroke-width="1.3"/>
<line x1="527.3" y1="267.2" x2="527.3" y2="404.4" stroke="#555" stroke-width="0.45"/>
<line x1="527.3" y1="271.8" x2="528.2" y2="271.8" stroke="#555" stroke-width="0.45"/>
<text x="529.9" y="272.9" font-size="3.5" fill="#444" font-family="Liberation Serif, Times New Roman, serif">10</text>
<line x1="527.3" y1="281.56" x2="528.2" y2="281.56" stroke="#555" stroke-width="0.45"/>
<text x="529.9" y="282.66" font-size="3.5" fill="#444" font-family="Liberation Serif, Times New Roman, serif">20</text>
<line x1="527.3" y1="291.32" x2="528.2" y2="291.32" stroke="#555" stroke-width="0.45"/>
<text x="529.9" y="292.42" font-size="3.5" fill="#444" font-family="Liberation Serif, Times New Roman, serif">30</text>
<line x1="527.3" y1="301.08" x2="528.2" y2="301.08" stroke="#555" stroke-width="0.45"/>
<text x="529.9" y="302.18" font-size="3.5" fill="#444" font-family="Liberation Serif, Times New Roman, serif">40</text>
<line x1="527.3" y1="310.84" x2="528.2" y2="310.84" stroke="#555" stroke-width="0.45"/>
<text x="529.9" y="311.94" font-size="3.5" fill="#444" font-family="Liberation Serif, Times New Roman, serif">50</text>
<line x1="527.3" y1="320.6" x2="528.2" y2="320.6" stroke="#555" stroke-width="0.45"/>
<text x="529.9" y="321.7" font-size="3.5" fill="#444" font-family="Liberation Serif, Times New Roman, serif">60</text>
<line x1="527.3" y1="330.36" x2="528.2" y2="330.36" stroke="#555" stroke-width="0.45"/>
<text x="529.9" y="331.46" font-size="3.5" fill="#444" font-family="Liberation Serif, Times New Roman, serif">70</text>
<line x1="527.3" y1="340.12" x2="528.2" y2="340.12" stroke="#555" stroke-width="0.45"/>
<text x="529.9" y="341.22" font-size="3.5" fill="#444" font-family="Liberation Serif, Times New Roman, serif">80</text>
<line x1="527.3" y1="349.88" x2="528.2" y2="349.88" stroke="#555" stroke-width="0.45"/>
<text x="529.9" y="350.98" font-size="3.5" fill="#444" font-family="Liberation Serif, Times New Roman, serif">90</text>
<line x1="527.3" y1="359.64" x2="528.2" y2="359.64" stroke="#555" stroke-width="0.45"/>
<text x="529.9" y="360.74" font-size="3.5" fill="#444" font-family="Liberation Serif, Times New Roman, serif">100</text>
<line x1="527.3" y1="369.4" x2="528.2" y2="369.4" stroke="#555" stroke-width="0.45"/>
<text x="529.9" y="370.5" font-size="3.5" fill="#444" font-family="Liberation Serif, Times New Roman, serif">110</text>
<line x1="527.3" y1="379.16" x2="528.2" y2="379.16" stroke="#555" stroke-width="0.45"/>
<text x="529.9" y="380.26" font-size="3.5" fill="#444" font-family="Liberation Serif, Times New Roman, serif">120</text>
<line x1="527.3" y1="388.92" x2="528.2" y2="388.92" stroke="#555" stroke-width="0.45"/>
<text x="529.9" y="390.02" font-size="3.5" fill="#444" font-family="Liberation Serif, Times New Roman, serif">130</text>
<line x1="527.3" y1="398.68" x2="528.2" y2="398.68" stroke="#555" stroke-width="0.45"/>
<text x="529.9" y="399.78" font-size="3.5" fill="#444" font-family="Liberation Serif, Times New Roman, serif">140</text>
<line x1="527.3" y1="276.68" x2="528" y2="276.68" stroke="#555" stroke-width="0.4"/>
<line x1="527.3" y1="286.44" x2="528" y2="286.44" stroke="#555" stroke-width="0.4"/>
<line x1="527.3" y1="296.2" x2="528" y2="296.2" stroke="#555" stroke-width="0.4"/>
<line x1="527.3" y1="305.96" x2="528" y2="305.96" stroke="#555" stroke-width="0.4"/>
<line x1="527.3" y1="315.72" x2="528" y2="315.72" stroke="#555" stroke-width="0.4"/>
<line x1="527.3" y1="325.48" x2="528" y2="325.48" stroke="#555" stroke-width="0.4"/>
<line x1="527.3" y1="335.24" x2="528" y2="335.24" stroke="#555" stroke-width="0.4"/>
<line x1="527.3" y1="345" x2="528" y2="345" stroke="#555" stroke-width="0.4"/>
<line x1="527.3" y1="354.76" x2="528" y2="354.76" stroke="#555" stroke-width="0.4"/>
<line x1="527.3" y1="364.52" x2="528" y2="364.52" stroke="#555" stroke-width="0.4"/>
<line x1="527.3" y1="374.28" x2="528" y2="374.28" stroke="#555" stroke-width="0.4"/>
<line x1="527.3" y1="384.04" x2="528" y2="384.04" stroke="#555" stroke-width="0.4"/>
<line x1="527.3" y1="393.8" x2="528" y2="393.8" stroke="#555" stroke-width="0.4"/>
<line x1="324" y1="404.4" x2="527.3" y2="404.4" stroke="#555" stroke-width="0.45"/>
<line x1="330.45" y1="403.5" x2="330.45" y2="405.3" stroke="#555" stroke-width="0.45"/>
<text x="330.45" y="410.4" font-size="3.5" text-anchor="middle" fill="#444" font-family="Liberation Serif, Times New Roman, serif">5.5</text>
<line x1="348.2" y1="403.5" x2="348.2" y2="405.3" stroke="#555" stroke-width="0.45"/>
<text x="348.2" y="410.4" font-size="3.5" text-anchor="middle" fill="#444" font-family="Liberation Serif, Times New Roman, serif">5.0</text>
<line x1="365.95" y1="403.5" x2="365.95" y2="405.3" stroke="#555" stroke-width="0.45"/>
<text x="365.95" y="410.4" font-size="3.5" text-anchor="middle" fill="#444" font-family="Liberation Serif, Times New Roman, serif">4.5</text>
<line x1="383.7" y1="403.5" x2="383.7" y2="405.3" stroke="#555" stroke-width="0.45"/>
<text x="383.7" y="410.4" font-size="3.5" text-anchor="middle" fill="#444" font-family="Liberation Serif, Times New Roman, serif">4.0</text>
<line x1="401.45" y1="403.5" x2="401.45" y2="405.3" stroke="#555" stroke-width="0.45"/>
<text x="401.45" y="410.4" font-size="3.5" text-anchor="middle" fill="#444" font-family="Liberation Serif, Times New Roman, serif">3.5</text>
<line x1="419.2" y1="403.5" x2="419.2" y2="405.3" stroke="#555" stroke-width="0.45"/>
<text x="419.2" y="410.4" font-size="3.5" text-anchor="middle" fill="#444" font-family="Liberation Serif, Times New Roman, serif">3.0</text>
<line x1="436.95" y1="403.5" x2="436.95" y2="405.3" stroke="#555" stroke-width="0.45"/>
<text x="436.95" y="410.4" font-size="3.5" text-anchor="middle" fill="#444" font-family="Liberation Serif, Times New Roman, serif">2.5</text>
<line x1="454.7" y1="403.5" x2="454.7" y2="405.3" stroke="#555" stroke-width="0.45"/>
<text x="454.7" y="410.4" font-size="3.5" text-anchor="middle" fill="#444" font-family="Liberation Serif, Times New Roman, serif">2.0</text>
<line x1="472.45" y1="403.5" x2="472.45" y2="405.3" stroke="#555" stroke-width="0.45"/>
<text x="472.45" y="410.4" font-size="3.5" text-anchor="middle" fill="#444" font-family="Liberation Serif, Times New Roman, serif">1.5</text>
<line x1="490.2" y1="403.5" x2="490.2" y2="405.3" stroke="#555" stroke-width="0.45"/>
<text x="490.2" y="410.4" font-size="3.5" text-anchor="middle" fill="#444" font-family="Liberation Serif, Times New Roman, serif">1.0</text>
<line x1="507.95" y1="403.5" x2="507.95" y2="405.3" stroke="#555" stroke-width="0.45"/>
<text x="507.95" y="410.4" font-size="3.5" text-anchor="middle" fill="#444" font-family="Liberation Serif, Times New Roman, serif">0.5</text>
<line x1="525.7" y1="403.5" x2="525.7" y2="405.3" stroke="#555" stroke-width="0.45"/>
<text x="525.7" y="410.4" font-size="3.5" text-anchor="middle" fill="#444" font-family="Liberation Serif, Times New Roman, serif">0.0</text>
<line x1="339.33" y1="403.8" x2="339.33" y2="405" stroke="#555" stroke-width="0.4"/>
<line x1="357.08" y1="403.8" x2="357.08" y2="405" stroke="#555" stroke-width="0.4"/>
<line x1="374.83" y1="403.8" x2="374.83" y2="405" stroke="#555" stroke-width="0.4"/>
<line x1="392.58" y1="403.8" x2="392.58" y2="405" stroke="#555" stroke-width="0.4"/>
<line x1="410.33" y1="403.8" x2="410.33" y2="405" stroke="#555" stroke-width="0.4"/>
<line x1="428.08" y1="403.8" x2="428.08" y2="405" stroke="#555" stroke-width="0.4"/>
<line x1="445.83" y1="403.8" x2="445.83" y2="405" stroke="#555" stroke-width="0.4"/>
<line x1="463.58" y1="403.8" x2="463.58" y2="405" stroke="#555" stroke-width="0.4"/>
<line x1="481.33" y1="403.8" x2="481.33" y2="405" stroke="#555" stroke-width="0.4"/>
<line x1="499.08" y1="403.8" x2="499.08" y2="405" stroke="#555" stroke-width="0.4"/>
<line x1="516.83" y1="403.8" x2="516.83" y2="405" stroke="#555" stroke-width="0.4"/>
<text x="421" y="413.6" font-size="2.8" text-anchor="middle" fill="#555" font-family="Liberation Sans, Arial, sans-serif">f2 (ppm)</text>
<text transform="translate(541.6,334) rotate(-90)" font-size="2.8" text-anchor="middle" fill="#555" font-family="Liberation Sans, Arial, sans-serif">f1 (ppm)</text>
<ellipse cx="361.9" cy="334.4" rx="2.6" ry="1.4" fill="#6a6a6a" stroke="#222" stroke-width="0.7"/>
<ellipse cx="361.9" cy="334.4" rx="1.09" ry="0.53" fill="#c8c8c8"/>
<circle cx="358.5" cy="334.4" r="0.4" fill="#777"/>
<ellipse cx="335.2" cy="381.4" rx="2" ry="1.6" fill="#333" stroke="#222" stroke-width="0.7"/>
<ellipse cx="348.6" cy="387.7" rx="2.4" ry="1.5" fill="#6a6a6a" stroke="#222" stroke-width="0.7"/>
<ellipse cx="348.6" cy="387.7" rx="1.01" ry="0.57" fill="#c8c8c8"/>
<ellipse cx="344.3" cy="387.7" rx="1" ry="0.8" fill="#555" stroke="#222" stroke-width="0.7"/>
<ellipse cx="342.9" cy="396.9" rx="2.4" ry="1.5" fill="#444" stroke="#222" stroke-width="0.7"/>
<ellipse cx="342.9" cy="396.9" rx="1.01" ry="0.57" fill="#c8c8c8"/>
<ellipse cx="347.5" cy="397.2" rx="1" ry="0.8" fill="#555" stroke="#222" stroke-width="0.7"/>
<ellipse cx="433.8" cy="290.2" rx="2.4" ry="1.4" fill="#6a6a6a" stroke="#222" stroke-width="0.7"/>
<ellipse cx="433.8" cy="290.2" rx="1.01" ry="0.53" fill="#c8c8c8"/>
<ellipse cx="454.9" cy="301.1" rx="2" ry="1.3" fill="#6a6a6a" stroke="#222" stroke-width="0.7"/>
<ellipse cx="454.9" cy="301.1" rx="0.84" ry="0.49" fill="#c8c8c8"/>
<ellipse cx="456.4" cy="293.1" rx="2" ry="1.2" fill="#6a6a6a" stroke="#222" stroke-width="0.7"/>
<ellipse cx="456.4" cy="293.1" rx="0.84" ry="0.46" fill="#c8c8c8"/>
<ellipse cx="460.7" cy="289" rx="2.1" ry="1.2" fill="#6a6a6a" stroke="#222" stroke-width="0.7"/>
<ellipse cx="460.7" cy="289" rx="0.88" ry="0.46" fill="#c8c8c8"/>
<ellipse cx="470.2" cy="289" rx="2" ry="1.2" fill="#6a6a6a" stroke="#222" stroke-width="0.7"/>
<ellipse cx="470.2" cy="289" rx="0.84" ry="0.46" fill="#c8c8c8"/>
<ellipse cx="471.6" cy="293.1" rx="2.4" ry="1.3" fill="#6a6a6a" stroke="#222" stroke-width="0.7"/>
<ellipse cx="471.6" cy="293.1" rx="1.01" ry="0.49" fill="#c8c8c8"/>
<ellipse cx="481.8" cy="290.2" rx="2" ry="1.2" fill="#6a6a6a" stroke="#222" stroke-width="0.7"/>
<ellipse cx="481.8" cy="290.2" rx="0.84" ry="0.46" fill="#c8c8c8"/>
<ellipse cx="486.2" cy="298.2" rx="2" ry="1.2" fill="#6a6a6a" stroke="#222" stroke-width="0.7"/>
<ellipse cx="486.2" cy="298.2" rx="0.84" ry="0.46" fill="#c8c8c8"/>
<ellipse cx="484.7" cy="300.4" rx="2" ry="1.2" fill="#6a6a6a" stroke="#222" stroke-width="0.7"/>
<ellipse cx="484.7" cy="300.4" rx="0.84" ry="0.46" fill="#c8c8c8"/>
<ellipse cx="492.7" cy="310.5" rx="1.8" ry="1" fill="#6a6a6a" stroke="#222" stroke-width="0.7"/>
<ellipse cx="492.7" cy="310.5" rx="0.76" ry="0.38" fill="#c8c8c8"/>
<ellipse cx="485.5" cy="316.4" rx="1.9" ry="1.2" fill="#6a6a6a" stroke="#222" stroke-width="0.7"/>
<ellipse cx="485.5" cy="316.4" rx="0.8" ry="0.46" fill="#c8c8c8"/>
<ellipse cx="490.5" cy="317.1" rx="1.8" ry="1.1" fill="#6a6a6a" stroke="#222" stroke-width="0.7"/>
<ellipse cx="490.5" cy="317.1" rx="0.76" ry="0.42" fill="#c8c8c8"/>
<ellipse cx="475" cy="281.8" rx="2.2" ry="1.2" fill="#6a6a6a" stroke="#222" stroke-width="0.7"/>
<ellipse cx="475" cy="281.8" rx="0.92" ry="0.46" fill="#c8c8c8"/>
<ellipse cx="444" cy="298.9" rx="1.8" ry="1.3" fill="#3a3a3a" stroke="#222" stroke-width="0.7"/>
<ellipse cx="460.7" cy="297.7" rx="1.8" ry="1.3" fill="#2a2a2a" stroke="#222" stroke-width="0.7"/>
<ellipse cx="472.4" cy="311.7" rx="1.3" ry="1" fill="#333" stroke="#222" stroke-width="0.7"/>
<rect x="464.9" y="288.9" width="1.2" height="0.8" fill="#777"/>
<rect x="467.4" y="289.2" width="1.2" height="0.8" fill="#777"/>
<rect x="473.9" y="285.1" width="1.2" height="0.8" fill="#777"/>
<rect x="477.9" y="285.1" width="1.2" height="0.8" fill="#777"/>
<rect x="481.4" y="284.1" width="1.2" height="0.8" fill="#777"/>
<rect x="488.4" y="286.1" width="1.2" height="0.8" fill="#777"/>
<rect x="465.4" y="281.6" width="1.2" height="0.8" fill="#777"/>
<rect x="469.9" y="282.1" width="1.2" height="0.8" fill="#777"/>
<rect x="477.9" y="281.1" width="1.2" height="0.8" fill="#777"/>
<rect x="481.4" y="280.1" width="1.2" height="0.8" fill="#777"/>
<ellipse cx="482.9" cy="274.1" rx="1.3" ry="1.2" fill="#111"/>
<ellipse cx="498.2" cy="274.1" rx="2.2" ry="2" fill="#111"/>
<ellipse cx="502" cy="274.1" rx="3" ry="2.6" fill="#111"/>
<ellipse cx="521.1" cy="274.1" rx="1.3" ry="1.2" fill="#111"/>
<ellipse cx="490.5" cy="281.1" rx="3" ry="2.8" fill="#111"/>
<ellipse cx="496.9" cy="281.1" rx="2.4" ry="2.2" fill="#111"/>
<ellipse cx="509.6" cy="281.1" rx="1" ry="1" fill="#111"/>
<ellipse cx="490.5" cy="285.5" rx="1.8" ry="1.5" fill="#111"/>
<ellipse cx="498.2" cy="286" rx="1" ry="0.9" fill="#111"/>
<path d="M502,269.6 L502,278.6 M497.5,274.1 L506.5,274.1 M490.5,277 L490.5,289" stroke="#111" stroke-width="0.9"/>
<circle cx="507.7" cy="274" r="0.55" fill="#666"/>
<circle cx="516.6" cy="281" r="0.55" fill="#666"/>
<circle cx="494" cy="286.5" r="0.55" fill="#666"/>
<circle cx="512.5" cy="283.5" r="0.55" fill="#666"/>
<circle cx="486.5" cy="274.2" r="0.55" fill="#666"/>
<circle cx="498.9" cy="324.4" r="0.4" fill="#888"/>
</svg>
</body></html>
